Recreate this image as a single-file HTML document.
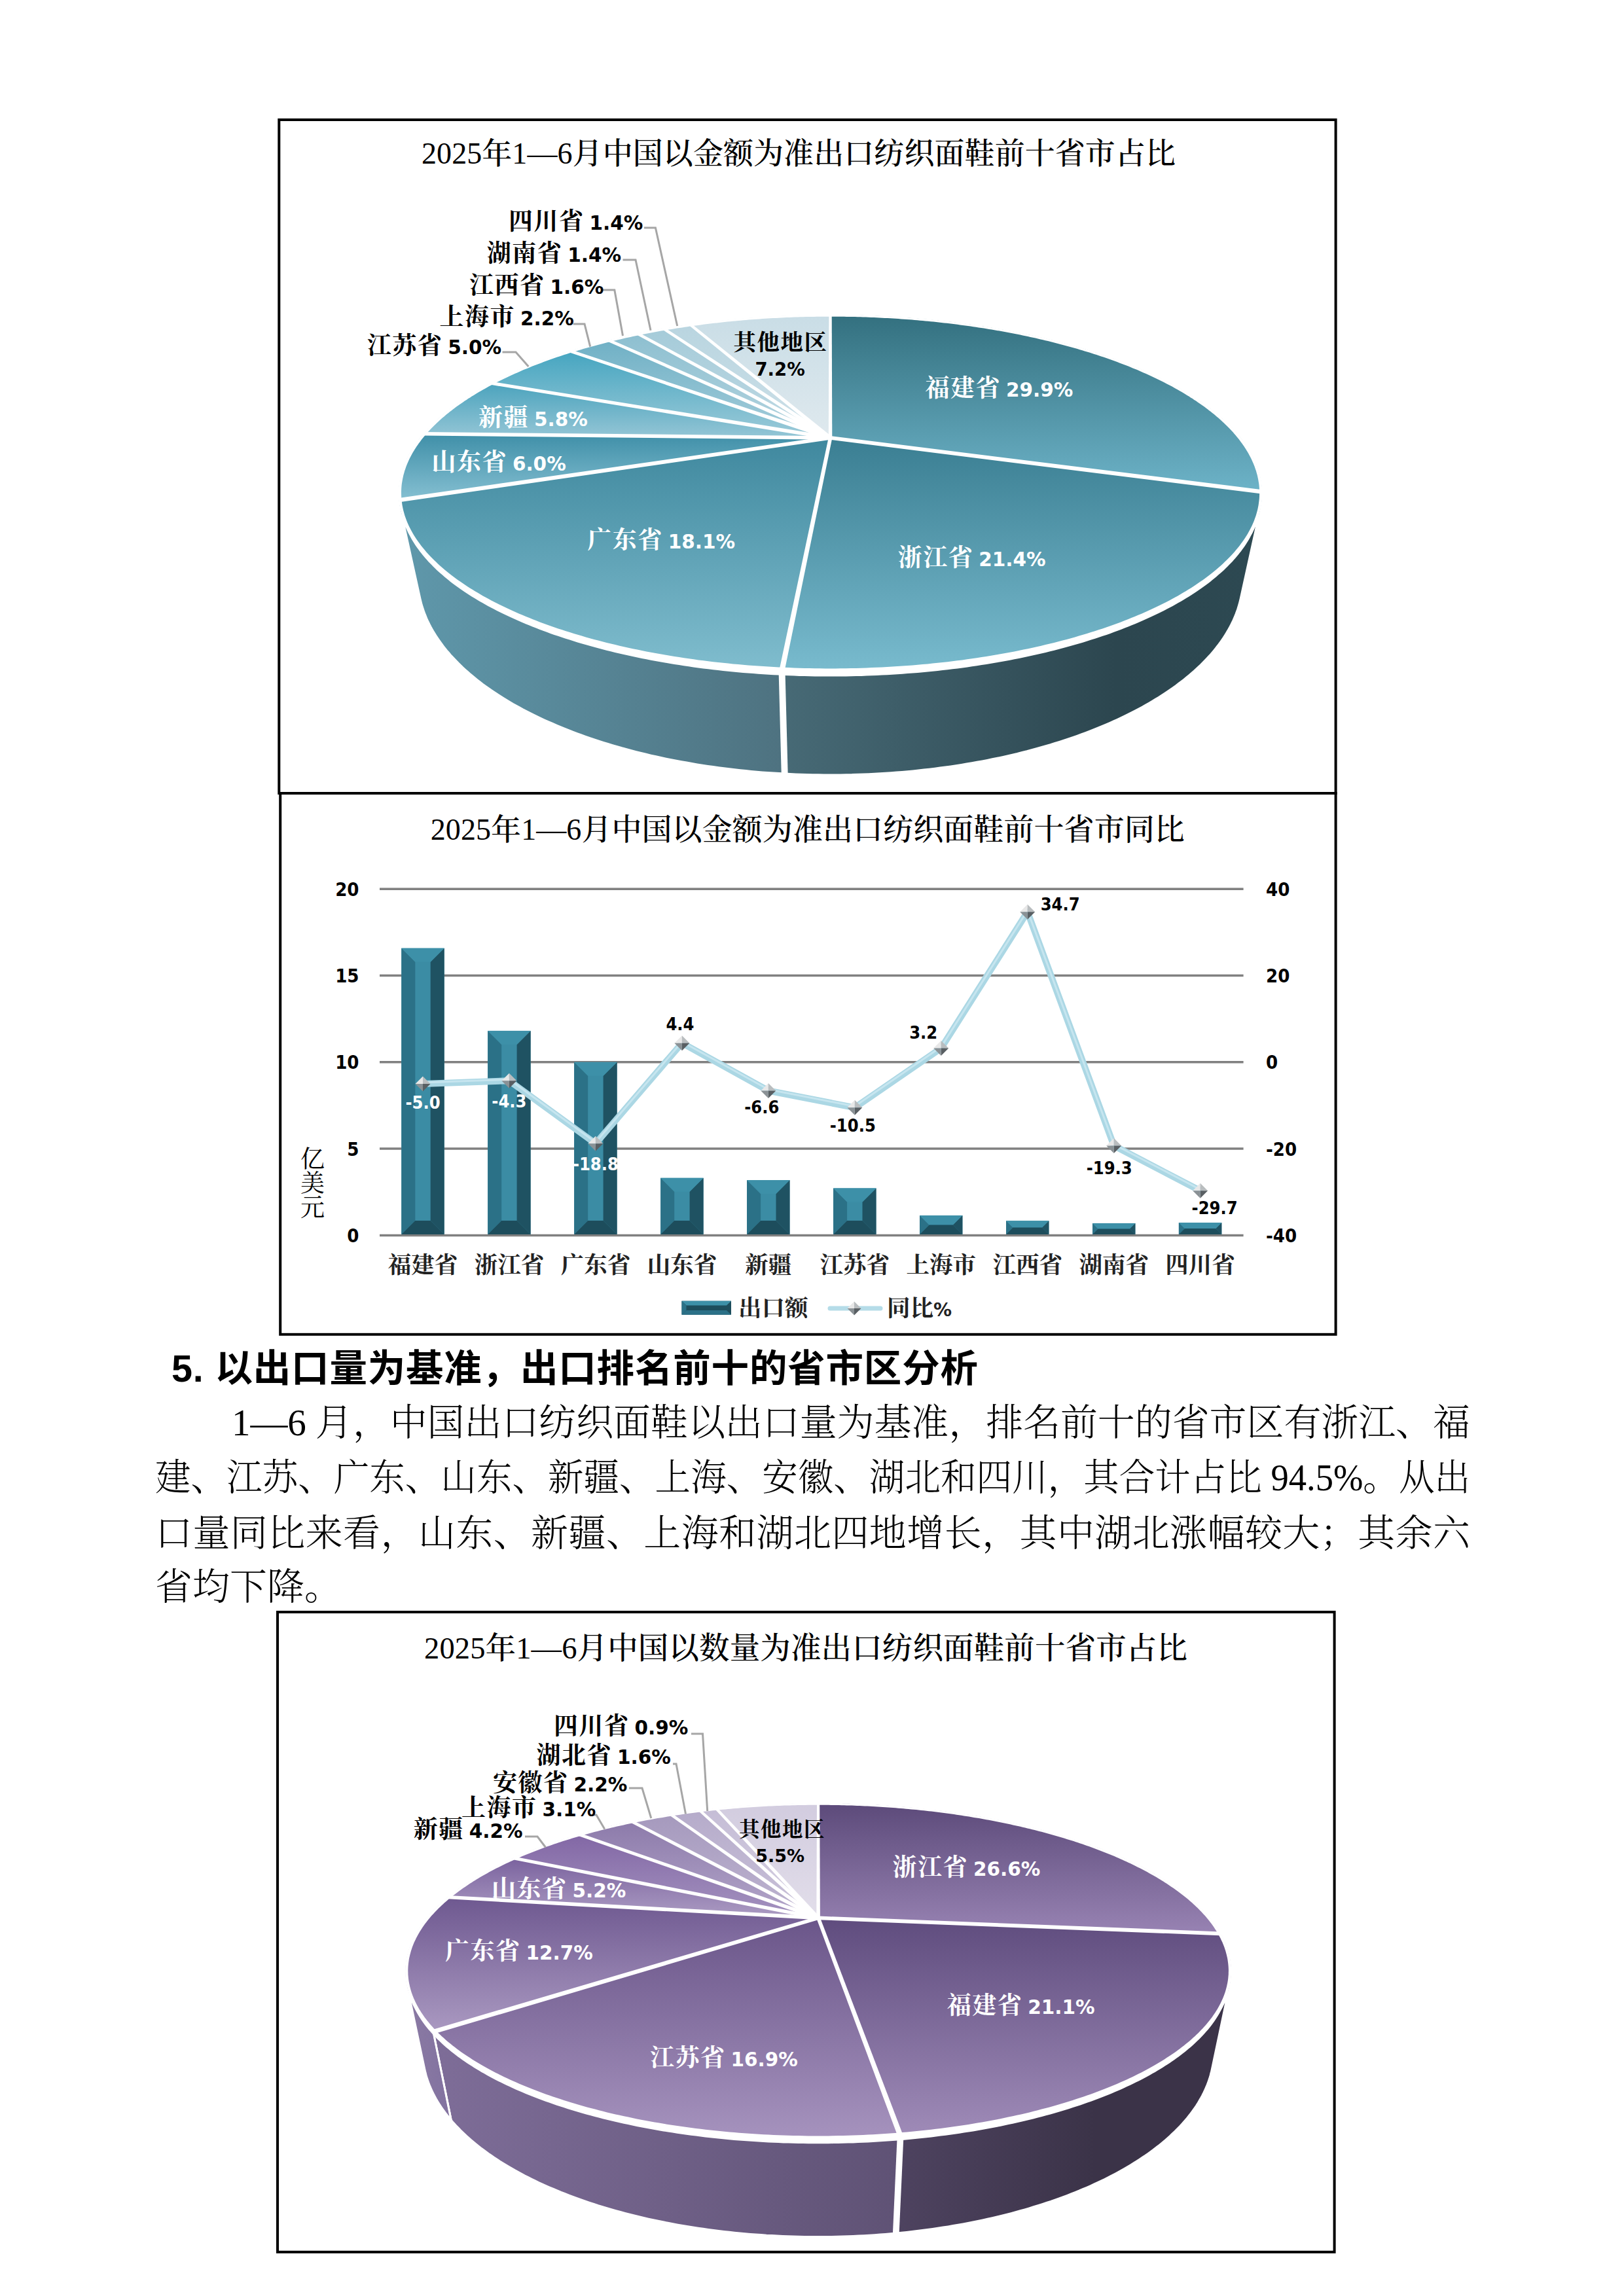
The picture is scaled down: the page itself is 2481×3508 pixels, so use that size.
<!DOCTYPE html>
<html lang="zh-CN"><head><meta charset="utf-8"><title>纺织面鞋出口分析</title>
<style>
html,body{margin:0;padding:0;background:#fff;}
body{width:2481px;height:3508px;position:relative;overflow:hidden;}
.pl{position:absolute;white-space:nowrap;font-family:"Liberation Serif","Noto Serif CJK SC",serif;font-size:56.5px;font-weight:300;color:#000;}
.hd{position:absolute;left:262px;top:2054px;height:80px;line-height:80px;white-space:nowrap;font-family:"Liberation Sans","Noto Sans CJK SC",sans-serif;font-size:57.5px;font-weight:900;color:#000;}
</style></head><body>
<svg width="2481" height="3508" viewBox="0 0 2481 3508" style="position:absolute;left:0;top:0"><defs><linearGradient id="g1" gradientUnits="userSpaceOnUse" x1="1194.5" y1="0" x2="1925.2" y2="0"><stop offset="0" stop-color="#476A76"/><stop offset="0.7" stop-color="#2C464F"/><stop offset="1" stop-color="#2D4952"/></linearGradient><linearGradient id="g2" gradientUnits="userSpaceOnUse" x1="611.9" y1="0" x2="1198.7" y2="0"><stop offset="0" stop-color="#5F98AB"/><stop offset="1" stop-color="#4E7280"/></linearGradient><linearGradient id="g3" x1="0" y1="0" x2="0" y2="1"><stop offset="0" stop-color="#33707F"/><stop offset="1" stop-color="#6DB3C8"/></linearGradient><linearGradient id="g4" x1="0" y1="0" x2="0" y2="1"><stop offset="0" stop-color="#3A7E92"/><stop offset="1" stop-color="#79BBCE"/></linearGradient><linearGradient id="g5" x1="0" y1="0" x2="0" y2="1"><stop offset="0" stop-color="#3F889E"/><stop offset="1" stop-color="#80BDCE"/></linearGradient><linearGradient id="g6" x1="0" y1="0" x2="0" y2="1"><stop offset="0" stop-color="#3F8FA8"/><stop offset="1" stop-color="#86C0D2"/></linearGradient><linearGradient id="g7" x1="0" y1="0" x2="0" y2="1"><stop offset="0" stop-color="#4BA3BD"/><stop offset="1" stop-color="#95C6D6"/></linearGradient><linearGradient id="g8" x1="0" y1="0" x2="0" y2="1"><stop offset="0" stop-color="#45A5C0"/><stop offset="1" stop-color="#9ECBD9"/></linearGradient><linearGradient id="g9" x1="0" y1="0" x2="0" y2="1"><stop offset="0" stop-color="#6FB0C5"/><stop offset="1" stop-color="#A8CFDC"/></linearGradient><linearGradient id="g10" x1="0" y1="0" x2="0" y2="1"><stop offset="0" stop-color="#8DBFD0"/><stop offset="1" stop-color="#B5D5E0"/></linearGradient><linearGradient id="g11" x1="0" y1="0" x2="0" y2="1"><stop offset="0" stop-color="#A5CBD9"/><stop offset="1" stop-color="#C0DAE4"/></linearGradient><linearGradient id="g12" x1="0" y1="0" x2="0" y2="1"><stop offset="0" stop-color="#B9D5E0"/><stop offset="1" stop-color="#CDE0E8"/></linearGradient><linearGradient id="g13" x1="0" y1="0" x2="0" y2="1"><stop offset="0" stop-color="#C9DDE6"/><stop offset="1" stop-color="#DFE9EE"/></linearGradient><linearGradient id="g14" gradientUnits="userSpaceOnUse" x1="1368.8" y1="0" x2="1878.3" y2="0"><stop offset="0" stop-color="#4E4360"/><stop offset="0.6" stop-color="#3B3348"/><stop offset="1" stop-color="#3B3348"/></linearGradient><linearGradient id="g15" gradientUnits="userSpaceOnUse" x1="661.9" y1="0" x2="1375.6" y2="0"><stop offset="0" stop-color="#7E6D98"/><stop offset="1" stop-color="#5F5275"/></linearGradient><linearGradient id="g16" gradientUnits="userSpaceOnUse" x1="621.9" y1="0" x2="689.2" y2="0"><stop offset="0" stop-color="#8A7AA3"/><stop offset="1" stop-color="#8272A0"/></linearGradient><linearGradient id="g17" x1="0" y1="0" x2="0" y2="1"><stop offset="0" stop-color="#5C4A7A"/><stop offset="1" stop-color="#9883B3"/></linearGradient><linearGradient id="g18" x1="0" y1="0" x2="0" y2="1"><stop offset="0" stop-color="#5F4C7E"/><stop offset="1" stop-color="#9F8BB8"/></linearGradient><linearGradient id="g19" x1="0" y1="0" x2="0" y2="1"><stop offset="0" stop-color="#6A5589"/><stop offset="1" stop-color="#A693BE"/></linearGradient><linearGradient id="g20" x1="0" y1="0" x2="0" y2="1"><stop offset="0" stop-color="#6E5890"/><stop offset="1" stop-color="#AA99C1"/></linearGradient><linearGradient id="g21" x1="0" y1="0" x2="0" y2="1"><stop offset="0" stop-color="#7A629E"/><stop offset="1" stop-color="#AC9CC3"/></linearGradient><linearGradient id="g22" x1="0" y1="0" x2="0" y2="1"><stop offset="0" stop-color="#8267A5"/><stop offset="1" stop-color="#A594C0"/></linearGradient><linearGradient id="g23" x1="0" y1="0" x2="0" y2="1"><stop offset="0" stop-color="#8C7AAA"/><stop offset="1" stop-color="#B5A8CB"/></linearGradient><linearGradient id="g24" x1="0" y1="0" x2="0" y2="1"><stop offset="0" stop-color="#A599BD"/><stop offset="1" stop-color="#C0B6D2"/></linearGradient><linearGradient id="g25" x1="0" y1="0" x2="0" y2="1"><stop offset="0" stop-color="#B5ABCA"/><stop offset="1" stop-color="#CBC3DA"/></linearGradient><linearGradient id="g26" x1="0" y1="0" x2="0" y2="1"><stop offset="0" stop-color="#C5BDD6"/><stop offset="1" stop-color="#D5CFE2"/></linearGradient><linearGradient id="g27" x1="0" y1="0" x2="0" y2="1"><stop offset="0" stop-color="#D2CCDF"/><stop offset="1" stop-color="#E2DEEA"/></linearGradient></defs>
<rect x="0" y="0" width="2481" height="3508" fill="#fff"/>
<rect x="426.3" y="183" width="1614.3" height="1029" fill="none" stroke="#000" stroke-width="4"/>
<rect x="428.2" y="1212" width="1612.4" height="826.8" fill="none" stroke="#000" stroke-width="4"/>
<rect x="424" y="2463" width="1614.6" height="977.8" fill="none" stroke="#000" stroke-width="4"/>
<polygon points="1925.2,778.4 1924.5,781.4 1923.7,784.3 1922.9,787.3 1921.9,790.2 1920.9,793.2 1919.8,796.2 1918.7,799.2 1917.4,802.1 1916,805.1 1914.6,808.1 1913.1,811.1 1911.5,814.1 1909.8,817.1 1908,820.1 1906.2,823.1 1904.2,826.1 1902.2,829.1 1900.1,832.1 1897.8,835.1 1895.5,838 1893.1,841 1890.6,844 1888.1,847 1885.4,850 1882.6,853 1879.7,856 1876.8,858.9 1873.7,861.9 1870.6,864.8 1867.4,867.8 1864,870.7 1860.6,873.7 1857.1,876.6 1853.5,879.5 1849.8,882.4 1845.9,885.3 1842,888.2 1838,891.1 1834,893.9 1829.8,896.8 1825.5,899.6 1821.1,902.4 1816.6,905.3 1812,908 1807.4,910.8 1802.6,913.6 1797.7,916.3 1792.8,919 1787.7,921.7 1782.6,924.4 1777.3,927.1 1772,929.7 1766.6,932.4 1761,935 1755.4,937.5 1749.7,940.1 1743.9,942.6 1738,945.1 1732,947.6 1726,950 1719.8,952.5 1713.5,954.9 1707.2,957.2 1700.8,959.6 1694.2,961.9 1687.6,964.2 1680.9,966.4 1674.2,968.6 1667.3,970.8 1660.4,973 1653.4,975.1 1646.3,977.2 1639.1,979.2 1631.8,981.2 1624.5,983.2 1617.1,985.1 1609.6,987 1602,988.9 1594.4,990.7 1586.7,992.5 1578.9,994.2 1571.1,995.9 1563.2,997.6 1555.2,999.2 1547.2,1000.8 1539.1,1002.3 1530.9,1003.8 1522.7,1005.3 1514.4,1006.7 1506.1,1008 1497.7,1009.3 1489.3,1010.6 1480.8,1011.8 1472.3,1013 1463.7,1014.1 1455,1015.2 1446.4,1016.2 1437.7,1017.2 1428.9,1018.1 1420.1,1019 1411.3,1019.9 1402.5,1020.6 1393.6,1021.4 1384.7,1022.1 1375.7,1022.7 1366.8,1023.3 1357.8,1023.8 1348.8,1024.3 1339.7,1024.7 1330.7,1025.1 1321.6,1025.4 1312.6,1025.7 1303.5,1025.9 1294.4,1026.1 1285.3,1026.2 1276.2,1026.3 1267.1,1026.3 1258,1026.3 1248.9,1026.2 1239.8,1026.1 1230.7,1025.9 1221.6,1025.6 1212.6,1025.3 1203.5,1025 1194.5,1024.6 1198.7,1182.1 1207.3,1182.5 1215.8,1182.9 1224.3,1183.2 1232.9,1183.5 1241.5,1183.7 1250,1183.8 1258.6,1183.9 1267.2,1184 1275.8,1183.9 1284.3,1183.9 1292.9,1183.7 1301.5,1183.6 1310,1183.3 1318.6,1183 1327.1,1182.7 1335.6,1182.3 1344.2,1181.8 1352.6,1181.3 1361.1,1180.7 1369.6,1180.1 1378,1179.4 1386.4,1178.7 1394.8,1177.9 1403.1,1177 1411.5,1176.1 1419.7,1175.2 1428,1174.2 1436.2,1173.1 1444.4,1172 1452.5,1170.9 1460.6,1169.7 1468.7,1168.4 1476.7,1167.1 1484.7,1165.7 1492.6,1164.3 1500.5,1162.9 1508.3,1161.4 1516,1159.8 1523.8,1158.2 1531.4,1156.6 1539,1154.9 1546.6,1153.1 1554.1,1151.4 1561.5,1149.5 1568.8,1147.7 1576.1,1145.7 1583.4,1143.8 1590.5,1141.8 1597.6,1139.7 1604.7,1137.7 1611.6,1135.5 1618.5,1133.4 1625.3,1131.2 1632.1,1128.9 1638.8,1126.6 1645.4,1124.3 1651.9,1122 1658.3,1119.6 1664.7,1117.2 1671,1114.7 1677.2,1112.2 1683.3,1109.7 1689.4,1107.1 1695.3,1104.5 1701.2,1101.9 1707,1099.3 1712.7,1096.6 1718.4,1093.9 1723.9,1091.2 1729.4,1088.4 1734.8,1085.6 1740.1,1082.8 1745.3,1080 1750.4,1077.1 1755.4,1074.2 1760.4,1071.3 1765.2,1068.4 1770,1065.5 1774.6,1062.5 1779.2,1059.5 1783.7,1056.5 1788.1,1053.5 1792.5,1050.4 1796.7,1047.4 1800.8,1044.3 1804.9,1041.2 1808.9,1038.1 1812.7,1035 1816.5,1031.8 1820.2,1028.7 1823.8,1025.5 1827.3,1022.3 1830.8,1019.1 1834.1,1016 1837.3,1012.8 1840.5,1009.5 1843.6,1006.3 1846.6,1003.1 1849.5,999.9 1852.3,996.6 1855,993.4 1857.6,990.1 1860.2,986.8 1862.6,983.6 1865,980.3 1867.3,977 1869.5,973.8 1871.6,970.5 1873.6,967.2 1875.6,963.9 1877.4,960.7 1879.2,957.4 1880.9,954.1 1882.5,950.8 1884.1,947.6 1885.5,944.3 1886.9,941 1888.2,937.8 1889.4,934.5 1890.6,931.2 1891.6,928 1892.6,924.7 1893.5,921.5 1894.3,918.3 1895.1,915" fill="url(#g1)" stroke="#fff" stroke-width="3" stroke-linejoin="round"/>
<polygon points="1194.5,1024.6 1185.4,1024.1 1176.3,1023.6 1167.3,1023.1 1158.3,1022.5 1149.3,1021.8 1140.3,1021.1 1131.4,1020.4 1122.5,1019.5 1113.7,1018.7 1104.8,1017.8 1096,1016.8 1087.3,1015.8 1078.6,1014.8 1069.9,1013.7 1061.3,1012.5 1052.8,1011.3 1044.2,1010.1 1035.8,1008.8 1027.4,1007.4 1019,1006 1010.7,1004.6 1002.5,1003.1 994.3,1001.6 986.2,1000 978.1,998.4 970.1,996.8 962.2,995.1 954.3,993.4 946.5,991.6 938.8,989.8 931.2,987.9 923.6,986 916.1,984.1 908.7,982.1 901.4,980.1 894.1,978.1 886.9,976 879.8,973.9 872.8,971.7 865.9,969.6 859,967.4 852.2,965.1 845.6,962.8 839,960.5 832.5,958.2 826,955.8 819.7,953.4 813.5,951 807.3,948.5 801.3,946 795.3,943.5 789.4,941 783.7,938.4 778,935.8 772.4,933.2 766.9,930.6 761.5,927.9 756.2,925.3 751,922.6 745.8,919.9 740.8,917.1 735.9,914.4 731.1,911.6 726.4,908.8 721.7,906 717.2,903.2 712.8,900.4 708.4,897.5 704.2,894.6 700,891.8 696,888.9 692,886 688.2,883.1 684.4,880.1 680.8,877.2 677.2,874.3 673.7,871.3 670.4,868.4 667.1,865.4 663.9,862.4 660.8,859.4 657.8,856.4 654.9,853.4 652.1,850.5 649.4,847.5 646.8,844.4 644.3,841.4 641.9,838.4 639.5,835.4 637.3,832.4 635.1,829.4 633.1,826.4 631.1,823.4 629.2,820.3 627.4,817.3 625.7,814.3 624.1,811.3 622.6,808.3 621.1,805.3 619.8,802.3 618.5,799.3 617.3,796.3 616.2,793.3 615.2,790.3 614.3,787.3 613.4,784.4 612.6,781.4 611.9,778.4 642,915 642.8,918.3 643.6,921.5 644.5,924.8 645.5,928.1 646.6,931.3 647.7,934.6 648.9,937.9 650.3,941.2 651.6,944.5 653.1,947.8 654.7,951.1 656.3,954.4 658,957.7 659.8,961 661.7,964.3 663.7,967.6 665.7,970.9 667.9,974.1 670.1,977.4 672.4,980.7 674.8,984 677.3,987.3 679.9,990.6 682.5,993.9 685.3,997.1 688.1,1000.4 691,1003.6 694.1,1006.9 697.2,1010.1 700.4,1013.4 703.7,1016.6 707,1019.8 710.5,1023 714.1,1026.2 717.7,1029.4 721.4,1032.5 725.3,1035.7 729.2,1038.8 733.2,1041.9 737.3,1045.1 741.5,1048.1 745.8,1051.2 750.1,1054.3 754.6,1057.3 759.2,1060.3 763.8,1063.3 768.5,1066.3 773.4,1069.3 778.3,1072.2 783.3,1075.2 788.4,1078 793.5,1080.9 798.8,1083.8 804.2,1086.6 809.6,1089.4 815.1,1092.1 820.7,1094.9 826.4,1097.6 832.2,1100.3 838.1,1102.9 844.1,1105.5 850.1,1108.1 856.2,1110.7 862.4,1113.2 868.7,1115.7 875,1118.2 881.5,1120.6 888,1123 894.6,1125.3 901.3,1127.7 908,1129.9 914.8,1132.2 921.7,1134.4 928.7,1136.5 935.7,1138.6 942.9,1140.7 950,1142.8 957.3,1144.7 964.6,1146.7 972,1148.6 979.4,1150.5 986.9,1152.3 994.5,1154.1 1002.1,1155.8 1009.8,1157.5 1017.5,1159.1 1025.3,1160.7 1033.2,1162.2 1041.1,1163.7 1049,1165.1 1057,1166.5 1065,1167.9 1073.1,1169.2 1081.3,1170.4 1089.5,1171.6 1097.7,1172.7 1105.9,1173.8 1114.2,1174.8 1122.5,1175.8 1130.9,1176.7 1139.3,1177.6 1147.7,1178.4 1156.2,1179.2 1164.6,1179.9 1173.1,1180.5 1181.7,1181.1 1190.2,1181.6 1198.7,1182.1" fill="url(#g2)" stroke="#fff" stroke-width="3" stroke-linejoin="round"/>
<line x1="1194.5" y1="1024.6" x2="1198.7" y2="1182.1" stroke="#fff" stroke-width="9.9"/>
<polygon points="1268.5,669 1268.5,481.1 1273.4,481.1 1278.2,481.1 1283,481.2 1287.8,481.2 1292.6,481.3 1297.4,481.3 1302.2,481.4 1307,481.5 1311.8,481.7 1316.6,481.8 1321.4,482 1326.2,482.1 1330.9,482.3 1335.7,482.5 1340.5,482.7 1345.3,482.9 1350.1,483.2 1354.9,483.4 1359.7,483.7 1364.4,484 1369.2,484.3 1374,484.6 1378.7,484.9 1383.5,485.3 1388.3,485.6 1393,486 1397.8,486.4 1402.5,486.8 1407.3,487.2 1412,487.6 1416.8,488.1 1421.5,488.5 1426.2,489 1430.9,489.5 1435.7,490 1440.4,490.5 1445.1,491 1449.8,491.6 1454.5,492.1 1459.2,492.7 1463.8,493.3 1468.5,493.9 1473.2,494.5 1477.9,495.2 1482.5,495.8 1487.2,496.5 1491.8,497.2 1496.4,497.9 1501.1,498.6 1505.7,499.3 1510.3,500.1 1514.9,500.8 1519.5,501.6 1524.1,502.4 1528.7,503.2 1533.3,504 1537.8,504.9 1542.4,505.7 1546.9,506.6 1551.4,507.5 1556,508.4 1560.5,509.3 1565,510.2 1569.5,511.1 1574,512.1 1578.4,513.1 1582.9,514.1 1587.3,515.1 1591.8,516.1 1596.2,517.1 1600.6,518.2 1605,519.3 1609.4,520.3 1613.8,521.4 1618.1,522.6 1622.5,523.7 1626.8,524.8 1631.1,526 1635.4,527.2 1639.7,528.4 1644,529.6 1648.2,530.8 1652.5,532.1 1656.7,533.3 1660.9,534.6 1665.1,535.9 1669.3,537.2 1673.4,538.5 1677.6,539.9 1681.7,541.2 1685.8,542.6 1689.9,544 1694,545.4 1698,546.9 1702.1,548.3 1706.1,549.8 1710.1,551.2 1714,552.7 1718,554.2 1721.9,555.8 1725.8,557.3 1729.7,558.9 1733.6,560.4 1737.4,562 1741.2,563.6 1745,565.3 1748.8,566.9 1752.5,568.6 1756.3,570.2 1760,571.9 1763.6,573.7 1767.3,575.4 1770.9,577.1 1774.5,578.9 1778,580.7 1781.6,582.5 1785.1,584.3 1788.6,586.1 1792,588 1795.4,589.8 1798.8,591.7 1802.2,593.6 1805.5,595.5 1808.8,597.4 1812.1,599.4 1815.3,601.4 1818.5,603.3 1821.7,605.3 1824.8,607.4 1827.9,609.4 1831,611.4 1834,613.5 1837,615.6 1840,617.7 1842.9,619.8 1845.8,622 1848.6,624.1 1851.4,626.3 1854.2,628.5 1856.9,630.7 1859.6,632.9 1862.2,635.1 1864.8,637.4 1867.4,639.6 1869.9,641.9 1872.4,644.2 1874.8,646.5 1877.2,648.9 1879.5,651.2 1881.8,653.6 1884.1,656 1886.3,658.4 1888.4,660.8 1890.5,663.2 1892.6,665.7 1894.6,668.1 1896.5,670.6 1898.4,673.1 1900.2,675.6 1902,678.1 1903.8,680.7 1905.5,683.2 1907.1,685.8 1908.7,688.4 1910.2,691 1911.6,693.6 1913,696.2 1914.4,698.8 1915.7,701.5 1916.9,704.2 1918.1,706.8 1919.2,709.5 1920.2,712.2 1921.2,715 1922.1,717.7 1923,720.4 1923.7,723.2 1924.5,726 1925.1,728.7 1925.7,731.5 1926.2,734.3 1926.7,737.2 1927,740 1927.4,742.8 1927.6,745.7 1927.8,748.5 1927.9,751.4" fill="url(#g3)"/>
<polygon points="1268.5,669 1927.9,751.4 1927.9,754.3 1927.8,757.2 1927.7,760 1927.5,763 1927.2,765.9 1926.9,768.8 1926.4,771.7 1925.9,774.6 1925.3,777.6 1924.7,780.5 1923.9,783.5 1923.1,786.4 1922.2,789.4 1921.2,792.4 1920.1,795.4 1919,798.3 1917.7,801.3 1916.4,804.3 1915,807.3 1913.5,810.3 1911.9,813.3 1910.3,816.3 1908.5,819.3 1906.7,822.3 1904.7,825.3 1902.7,828.3 1900.6,831.3 1898.4,834.3 1896.1,837.3 1893.7,840.3 1891.2,843.3 1888.7,846.3 1886,849.3 1883.3,852.3 1880.4,855.3 1877.5,858.3 1874.4,861.2 1871.3,864.2 1868.1,867.1 1864.8,870.1 1861.4,873 1857.8,876 1854.2,878.9 1850.5,881.8 1846.7,884.7 1842.8,887.6 1838.9,890.5 1834.8,893.4 1830.6,896.2 1826.3,899.1 1821.9,901.9 1817.5,904.7 1812.9,907.5 1808.2,910.3 1803.5,913.1 1798.6,915.8 1793.7,918.6 1788.6,921.3 1783.5,924 1778.2,926.6 1772.9,929.3 1767.5,931.9 1762,934.5 1756.3,937.1 1750.6,939.7 1744.8,942.2 1738.9,944.7 1732.9,947.2 1726.9,949.7 1720.7,952.1 1714.5,954.5 1708.1,956.9 1701.7,959.2 1695.2,961.6 1688.5,963.9 1681.8,966.1 1675.1,968.3 1668.2,970.5 1661.3,972.7 1654.2,974.8 1647.1,976.9 1639.9,979 1632.7,981 1625.3,983 1617.9,984.9 1610.4,986.8 1602.8,988.7 1595.2,990.5 1587.5,992.3 1579.7,994.1 1571.9,995.8 1563.9,997.4 1556,999.1 1547.9,1000.6 1539.8,1002.2 1531.6,1003.7 1523.4,1005.1 1515.1,1006.5 1506.8,1007.9 1498.4,1009.2 1489.9,1010.5 1481.4,1011.7 1472.9,1012.9 1464.3,1014 1455.6,1015.1 1446.9,1016.2 1438.2,1017.1 1429.5,1018.1 1420.7,1019 1411.8,1019.8 1402.9,1020.6 1394,1021.3 1385.1,1022 1376.1,1022.7 1367.2,1023.3 1358.2,1023.8 1349.1,1024.3 1340.1,1024.7 1331,1025.1 1321.9,1025.4 1312.8,1025.7 1303.7,1025.9 1294.6,1026.1 1285.5,1026.2 1276.4,1026.3 1267.3,1026.3 1258.1,1026.3 1249,1026.2 1239.9,1026.1 1230.8,1025.9 1221.7,1025.6 1212.6,1025.3 1203.5,1025 1194.5,1024.6" fill="url(#g4)"/>
<polygon points="1268.5,669 1194.5,1024.6 1185.4,1024.1 1176.4,1023.6 1167.3,1023.1 1158.3,1022.5 1149.4,1021.8 1140.4,1021.1 1131.5,1020.4 1122.6,1019.6 1113.7,1018.7 1104.9,1017.8 1096.1,1016.8 1087.4,1015.8 1078.7,1014.8 1070.1,1013.7 1061.5,1012.5 1052.9,1011.3 1044.4,1010.1 1035.9,1008.8 1027.5,1007.5 1019.2,1006.1 1010.9,1004.6 1002.6,1003.2 994.5,1001.6 986.4,1000.1 978.3,998.5 970.3,996.8 962.4,995.1 954.6,993.4 946.8,991.6 939.1,989.8 931.4,988 923.9,986.1 916.4,984.2 909,982.2 901.6,980.2 894.4,978.2 887.2,976.1 880.1,974 873.1,971.8 866.1,969.7 859.3,967.4 852.5,965.2 845.8,962.9 839.3,960.6 832.8,958.3 826.3,955.9 820,953.5 813.8,951.1 807.6,948.6 801.6,946.2 795.6,943.7 789.7,941.1 784,938.6 778.3,936 772.7,933.4 767.2,930.8 761.8,928.1 756.5,925.4 751.3,922.7 746.2,920 741.1,917.3 736.2,914.6 731.4,911.8 726.7,909 722,906.2 717.5,903.4 713.1,900.6 708.7,897.7 704.5,894.8 700.3,892 696.3,889.1 692.3,886.2 688.5,883.3 684.7,880.4 681,877.4 677.5,874.5 674,871.5 670.6,868.6 667.3,865.6 664.2,862.7 661.1,859.7 658.1,856.7 655.2,853.7 652.4,850.7 649.7,847.7 647,844.7 644.5,841.7 642.1,838.7 639.7,835.7 637.5,832.7 635.3,829.7 633.3,826.7 631.3,823.6 629.4,820.6 627.6,817.6 625.9,814.6 624.3,811.6 622.7,808.6 621.3,805.6 619.9,802.6 618.6,799.6 617.4,796.6 616.3,793.6 615.3,790.6 614.4,787.7 613.5,784.7 612.7,781.7 612,778.8 611.4,775.8 610.8,772.9 610.4,769.9 610,767 609.7,764.1" fill="url(#g5)"/>
<polygon points="1268.5,669 609.7,764.1 609.5,761.1 609.3,758.2 609.2,755.2 609.2,752.3 609.3,749.4 609.4,746.5 609.7,743.6 610,740.7 610.3,737.9 610.8,735 611.3,732.2 611.9,729.3 612.5,726.5 613.2,723.7 614,720.9 614.9,718.1 615.8,715.3 616.8,712.6 617.8,709.8 618.9,707.1 620.1,704.4 621.3,701.7 622.6,699 624,696.3 625.4,693.6 626.9,691 628.4,688.3 630,685.7 631.7,683.1 633.4,680.5 635.2,678 637,675.4 638.9,672.9 640.8,670.3 642.8,667.8 644.8,665.3 646.9,662.9" fill="url(#g6)"/>
<polygon points="1268.5,669 646.9,662.9 649,660.4 651.2,658 653.4,655.6 655.7,653.2 658,650.8 660.4,648.4 662.8,646.1 665.2,643.7 667.7,641.4 670.3,639.1 672.9,636.8 675.5,634.6 678.2,632.3 680.9,630.1 683.6,627.9 686.4,625.7 689.3,623.5 692.1,621.3 695.1,619.2 698,617.1 701,615 704,612.9 707.1,610.8 710.2,608.7 713.3,606.7 716.5,604.6 719.7,602.6 722.9,600.6 726.2,598.7 729.5,596.7 732.8,594.8 736.2,592.9 739.6,590.9 743,589.1 746.5,587.2 750,585.3" fill="url(#g7)"/>
<polygon points="1268.5,669 750,585.3 753.5,583.5 757.1,581.7 760.6,579.9 764.3,578.1 767.9,576.3 771.6,574.6 775.2,572.8 779,571.1 782.7,569.4 786.5,567.7 790.3,566.1 794.1,564.4 797.9,562.8 801.8,561.2 805.7,559.6 809.6,558 813.5,556.4 817.5,554.9 821.4,553.3 825.4,551.8 829.5,550.3 833.5,548.9 837.6,547.4 841.6,546 845.7,544.5 849.8,543.1 854,541.7 858.1,540.3 862.3,539 866.5,537.6 870.7,536.3" fill="url(#g8)"/>
<polygon points="1268.5,669 870.7,536.3 875.1,534.9 879.6,533.6 884.1,532.2 888.6,530.9 893.1,529.6 897.6,528.3 902.1,527.1 906.7,525.8 911.3,524.6 915.8,523.4 920.4,522.2 925.1,521 929.7,519.8" fill="url(#g9)"/>
<polygon points="1268.5,669 929.7,519.8 934.1,518.8 938.5,517.7 942.9,516.7 947.3,515.6 951.8,514.6 956.2,513.6 960.7,512.6 965.2,511.7 969.7,510.7 974.2,509.8" fill="url(#g10)"/>
<polygon points="1268.5,669 974.2,509.8 979.1,508.8 984.1,507.8 989,506.8 994,505.8 999,504.9 1004,504 1009,503.1 1014,502.2" fill="url(#g11)"/>
<polygon points="1268.5,669 1014,502.2 1019,501.4 1024,500.5 1029.1,499.7 1034.1,498.9 1039.2,498.1 1044.3,497.3 1049.4,496.6 1054.4,495.9" fill="url(#g12)"/>
<polygon points="1268.5,669 1054.4,495.9 1059.1,495.2 1063.8,494.6 1068.4,493.9 1073.1,493.3 1077.8,492.7 1082.5,492.2 1087.2,491.6 1091.9,491.1 1096.6,490.5 1101.3,490 1106.1,489.5 1110.8,489 1115.5,488.5 1120.2,488.1 1125,487.6 1129.7,487.2 1134.5,486.8 1139.2,486.4 1144,486 1148.7,485.6 1153.5,485.3 1158.3,484.9 1163.1,484.6 1167.8,484.3 1172.6,484 1177.4,483.7 1182.2,483.4 1186.9,483.2 1191.7,482.9 1196.5,482.7 1201.3,482.5 1206.1,482.3 1210.9,482.1 1215.7,482 1220.5,481.8 1225.3,481.7 1230.1,481.5 1234.9,481.4 1239.7,481.3 1244.5,481.3 1249.3,481.2 1254.1,481.2 1258.9,481.1 1263.7,481.1 1268.5,481.1" fill="url(#g13)"/>
<polygon points="1271.3,669 1270.7,481.1 1266.4,481.1 1265.8,669" fill="#fff"/>
<polygon points="1268.2,671.8 1927.5,754.5 1928.2,748.3 1268.9,666.2" fill="#fff"/>
<polygon points="1265.8,668.4 1190.5,1023.8 1198.5,1025.4 1271.3,669.6" fill="#fff"/>
<polygon points="1268.2,666.2 609.2,761 610.1,767.2 1268.9,671.8" fill="#fff"/>
<polygon points="1268.6,666.2 646.9,660.1 646.9,665.6 1268.5,671.8" fill="#fff"/>
<polygon points="1269,666.2 750.4,582.9 749.6,587.8 1268.1,671.8" fill="#fff"/>
<polygon points="1269.4,666.3 871.4,534.1 870,538.5 1267.7,671.7" fill="#fff"/>
<polygon points="1269.7,666.4 930.6,517.8 928.8,521.9 1267.4,671.6" fill="#fff"/>
<polygon points="1269.9,666.5 975.2,507.8 973.1,511.7 1267.2,671.5" fill="#fff"/>
<polygon points="1270.1,666.7 1015.2,500.4 1012.8,504.1 1267,671.3" fill="#fff"/>
<polygon points="1270.3,666.8 1055.8,494.2 1053.1,497.6 1266.8,671.2" fill="#fff"/>
<circle cx="1268.5" cy="669" r="2.8" fill="#fff"/>
<path d="M1268.5 480.6 L1272.7 480.6 L1276.9 480.6 L1281.1 480.6 L1285.2 480.7 L1289.4 480.7 L1293.6 480.8 L1297.8 480.9 L1301.9 480.9 L1306.1 481 L1310.3 481.1 L1314.4 481.2 L1318.6 481.4 L1322.8 481.5 L1326.9 481.7 L1331.1 481.8 L1335.3 482 L1339.4 482.2 L1343.6 482.4 L1347.7 482.6 L1351.9 482.8 L1356.1 483 L1360.2 483.2 L1364.4 483.5 L1368.5 483.7 L1372.7 484 L1376.8 484.3 L1380.9 484.6 L1385.1 484.9 L1389.2 485.2 L1393.3 485.5 L1397.5 485.8 L1401.6 486.2 L1405.7 486.5 L1409.9 486.9 L1414 487.3 L1418.1 487.7 L1422.2 488.1 L1426.3 488.5 L1430.4 488.9 L1434.5 489.4 L1438.6 489.8 L1442.7 490.3 L1446.8 490.7 L1450.9 491.2 L1454.9 491.7 L1459 492.2 L1463.1 492.7 L1467.2 493.2 L1471.2 493.8 L1475.3 494.3 L1479.3 494.9 L1483.4 495.5 L1487.4 496 L1491.5 496.6 L1495.5 497.2 L1499.5 497.9 L1503.5 498.5 L1507.5 499.1 L1511.5 499.8 L1515.5 500.4 L1519.5 501.1 L1523.5 501.8 L1527.5 502.5 L1531.5 503.2 L1535.5 503.9 L1539.4 504.6 L1543.4 505.4 L1547.3 506.1 L1551.3 506.9 L1555.2 507.7 L1559.1 508.5 L1563 509.3 L1566.9 510.1 L1570.8 510.9 L1574.7 511.7 L1578.6 512.6 L1582.5 513.5 L1586.3 514.3 L1590.2 515.2 L1594.1 516.1 L1597.9 517 L1601.7 517.9 L1605.5 518.9 L1609.4 519.8 L1613.2 520.8 L1616.9 521.7 L1620.7 522.7 L1624.5 523.7 L1628.3 524.7 L1632 525.7 L1635.7 526.8 L1639.5 527.8 L1643.2 528.8 L1646.9 529.9 L1650.6 531 L1654.3 532.1 L1657.9 533.2 L1661.6 534.3 L1665.2 535.4 L1668.9 536.6 L1672.5 537.7 L1676.1 538.9 L1679.7 540 L1683.3 541.2 L1686.8 542.4 L1690.4 543.7 L1693.9 544.9 L1697.4 546.1 L1700.9 547.4 L1704.4 548.6 L1707.9 549.9 L1711.4 551.2 L1714.8 552.5 L1718.3 553.8 L1721.7 555.1 L1725.1 556.5 L1728.5 557.8 L1731.8 559.2 L1735.2 560.6 L1738.5 561.9 L1741.8 563.3 L1745.1 564.8 L1748.4 566.2 L1751.7 567.6 L1754.9 569.1 L1758.1 570.6 L1761.3 572 L1764.5 573.5 L1767.7 575 L1770.8 576.5 L1774 578.1 L1777.1 579.6 L1780.1 581.2 L1783.2 582.7 L1786.3 584.3 L1789.3 585.9 L1792.3 587.5 L1795.2 589.1 L1798.2 590.8 L1801.1 592.4 L1804 594.1 L1806.9 595.7 L1809.8 597.4 L1812.6 599.1 L1815.4 600.8 L1818.2 602.6 L1821 604.3 L1823.7 606 L1826.4 607.8 L1829.1 609.6 L1831.8 611.4 L1834.4 613.2 L1837 615 L1839.6 616.8 L1842.1 618.6 L1844.7 620.5 L1847.1 622.4 L1849.6 624.2 L1852 626.1 L1854.4 628 L1856.8 629.9 L1859.2 631.9 L1861.5 633.8 L1863.8 635.8 L1866 637.7 L1868.2 639.7 L1870.4 641.7 L1872.6 643.7 L1874.7 645.7 L1876.8 647.7 L1878.8 649.8 L1880.8 651.8 L1882.8 653.9 L1884.7 656 L1886.7 658.1 L1888.5 660.2 L1890.4 662.3 L1892.2 664.4 L1893.9 666.5 L1895.6 668.7 L1897.3 670.9 L1899 673 L1900.6 675.2 L1902.1 677.4 L1903.7 679.6 L1905.2 681.8 L1906.6 684.1 L1908 686.3 L1909.4 688.6 L1910.7 690.8 L1911.9 693.1 L1913.2 695.4 L1914.4 697.7 L1915.5 700 L1916.6 702.3 L1917.7 704.6 L1918.7 707 L1919.6 709.3 L1920.5 711.7 L1921.4 714 L1922.2 716.4 L1923 718.8 L1923.7 721.2 L1924.4 723.6 L1925 726 L1925.6 728.5 L1926.1 730.9 L1926.5 733.3 L1927 735.8 L1927.3 738.3 L1927.6 740.7 L1927.9 743.2 L1928.1 745.7 L1928.2 748.2 L1928.3 750.7 L1928.4 753.2 L1928.4 755.7 L1928.3 758.2 L1928.2 760.8 L1928 763.3 L1927.7 765.8 L1927.4 768.4 L1927.1 770.9 L1926.6 773.5 L1926.2 776.1 L1923.8 784.8 L1923.2 787.4 L1922.5 790 L1921.8 792.6 L1921 795.2 L1920.1 797.7 L1919.2 800.3 L1918.3 803 L1917.2 805.6 L1916.1 808.2 L1915 810.8 L1913.8 813.4 L1912.5 816 L1911.1 818.6 L1909.7 821.2 L1908.2 823.9 L1906.7 826.5 L1905.1 829.1 L1903.4 831.7 L1901.6 834.4 L1899.8 837 L1897.9 839.6 L1896 842.2 L1893.9 844.8 L1891.8 847.5 L1889.7 850.1 L1887.4 852.7 L1885.1 855.3 L1882.8 857.9 L1880.3 860.5 L1877.8 863.1 L1875.2 865.7 L1872.6 868.3 L1869.9 870.9 L1867.1 873.5 L1864.2 876.1 L1861.2 878.6 L1858.2 881.2 L1855.1 883.8 L1852 886.3 L1848.8 888.9 L1845.5 891.4 L1842.1 893.9 L1838.6 896.5 L1835.1 899 L1831.5 901.5 L1827.9 904 L1824.1 906.4 L1820.3 908.9 L1816.4 911.4 L1812.5 913.8 L1808.5 916.2 L1804.4 918.7 L1800.2 921.1 L1795.9 923.5 L1791.6 925.9 L1787.2 928.2 L1782.8 930.6 L1778.2 932.9 L1773.6 935.2 L1769 937.5 L1764.2 939.8 L1759.4 942.1 L1754.5 944.3 L1749.5 946.6 L1744.5 948.8 L1739.4 951 L1734.2 953.2 L1729 955.3 L1723.7 957.5 L1718.3 959.6 L1712.9 961.7 L1707.4 963.8 L1701.8 965.8 L1696.2 967.9 L1690.5 969.9 L1684.7 971.8 L1678.9 973.8 L1673 975.7 L1667 977.6 L1661 979.5 L1654.9 981.4 L1648.8 983.2 L1642.5 985 L1636.3 986.8 L1630 988.6 L1623.6 990.3 L1617.1 992 L1610.6 993.7 L1604.1 995.3 L1597.5 996.9 L1590.8 998.5 L1584.1 1000 L1577.3 1001.5 L1570.5 1003 L1563.6 1004.5 L1556.7 1005.9 L1549.7 1007.3 L1542.7 1008.7 L1535.7 1010 L1528.6 1011.3 L1521.4 1012.5 L1514.2 1013.8 L1507 1015 L1499.7 1016.1 L1492.4 1017.2 L1485 1018.3 L1477.6 1019.4 L1470.2 1020.4 L1462.7 1021.4 L1455.2 1022.3 L1447.7 1023.2 L1440.2 1024.1 L1432.6 1024.9 L1424.9 1025.7 L1417.3 1026.5 L1409.6 1027.2 L1401.9 1027.9 L1394.2 1028.5 L1386.5 1029.1 L1378.7 1029.7 L1370.9 1030.2 L1363.1 1030.7 L1355.3 1031.2 L1347.4 1031.6 L1339.6 1032 L1331.7 1032.3 L1323.9 1032.6 L1316 1032.9 L1308.1 1033.1 L1300.2 1033.3 L1292.3 1033.4 L1284.4 1033.5 L1276.5 1033.6 L1268.5 1033.6 L1260.6 1033.6 L1252.7 1033.5 L1244.8 1033.4 L1236.9 1033.3 L1229 1033.1 L1221.1 1032.9 L1213.2 1032.6 L1205.4 1032.3 L1197.5 1032 L1189.7 1031.6 L1181.8 1031.2 L1174 1030.7 L1166.2 1030.2 L1158.4 1029.7 L1150.6 1029.1 L1142.9 1028.5 L1135.2 1027.9 L1127.5 1027.2 L1119.8 1026.5 L1112.2 1025.7 L1104.5 1024.9 L1096.9 1024.1 L1089.4 1023.2 L1081.9 1022.3 L1074.4 1021.4 L1066.9 1020.4 L1059.5 1019.4 L1052.1 1018.3 L1044.7 1017.2 L1037.4 1016.1 L1030.1 1015 L1022.9 1013.8 L1015.7 1012.5 L1008.5 1011.3 L1001.4 1010 L994.4 1008.7 L987.4 1007.3 L980.4 1005.9 L973.5 1004.5 L966.6 1003 L959.8 1001.5 L953 1000 L946.3 998.5 L939.6 996.9 L933 995.3 L926.5 993.7 L920 992 L913.5 990.3 L907.1 988.6 L900.8 986.8 L894.6 985 L888.3 983.2 L882.2 981.4 L876.1 979.5 L870.1 977.6 L864.1 975.7 L858.2 973.8 L852.4 971.8 L846.6 969.9 L840.9 967.9 L835.3 965.8 L829.7 963.8 L824.2 961.7 L818.8 959.6 L813.4 957.5 L808.1 955.3 L802.9 953.2 L797.7 951 L792.6 948.8 L787.6 946.6 L782.6 944.3 L777.7 942.1 L772.9 939.8 L768.1 937.5 L763.5 935.2 L758.9 932.9 L754.3 930.6 L749.9 928.2 L745.5 925.9 L741.2 923.5 L736.9 921.1 L732.7 918.7 L728.6 916.2 L724.6 913.8 L720.7 911.4 L716.8 908.9 L713 906.4 L709.2 904 L705.6 901.5 L702 899 L698.5 896.5 L695 893.9 L691.6 891.4 L688.3 888.9 L685.1 886.3 L682 883.8 L678.9 881.2 L675.9 878.6 L672.9 876.1 L670 873.5 L667.2 870.9 L664.5 868.3 L661.9 865.7 L659.3 863.1 L656.8 860.5 L654.3 857.9 L652 855.3 L649.7 852.7 L647.4 850.1 L645.3 847.5 L643.2 844.8 L641.1 842.2 L639.2 839.6 L637.3 837 L635.5 834.4 L633.7 831.7 L632 829.1 L630.4 826.5 L628.9 823.9 L627.4 821.2 L626 818.6 L624.6 816 L623.3 813.4 L622.1 810.8 L621 808.2 L619.9 805.6 L618.8 803 L617.9 800.3 L617 797.7 L616.1 795.2 L615.3 792.6 L614.6 790 L613.9 787.4 L613.3 784.8 L610.9 776.1 L610.5 773.5 L610 770.9 L609.7 768.4 L609.4 765.8 L609.1 763.3 L608.9 760.8 L608.8 758.2 L608.7 755.7 L608.7 753.2 L608.8 750.7 L608.9 748.2 L609 745.7 L609.2 743.2 L609.5 740.7 L609.8 738.3 L610.1 735.8 L610.6 733.3 L611 730.9 L611.5 728.5 L612.1 726 L612.7 723.6 L613.4 721.2 L614.1 718.8 L614.9 716.4 L615.7 714 L616.6 711.7 L617.5 709.3 L618.4 707 L619.4 704.6 L620.5 702.3 L621.6 700 L622.7 697.7 L623.9 695.4 L625.2 693.1 L626.4 690.8 L627.7 688.6 L629.1 686.3 L630.5 684.1 L631.9 681.8 L633.4 679.6 L635 677.4 L636.5 675.2 L638.1 673 L639.8 670.9 L641.5 668.7 L643.2 666.5 L644.9 664.4 L646.7 662.3 L648.6 660.2 L650.4 658.1 L652.4 656 L654.3 653.9 L656.3 651.8 L658.3 649.8 L660.3 647.7 L662.4 645.7 L664.5 643.7 L666.7 641.7 L668.9 639.7 L671.1 637.7 L673.3 635.8 L675.6 633.8 L677.9 631.9 L680.3 629.9 L682.7 628 L685.1 626.1 L687.5 624.2 L690 622.4 L692.4 620.5 L695 618.6 L697.5 616.8 L700.1 615 L702.7 613.2 L705.3 611.4 L708 609.6 L710.7 607.8 L713.4 606 L716.1 604.3 L718.9 602.6 L721.7 600.8 L724.5 599.1 L727.3 597.4 L730.2 595.7 L733.1 594.1 L736 592.4 L738.9 590.8 L741.9 589.1 L744.8 587.5 L747.8 585.9 L750.8 584.3 L753.9 582.7 L757 581.2 L760 579.6 L763.1 578.1 L766.3 576.5 L769.4 575 L772.6 573.5 L775.8 572 L779 570.6 L782.2 569.1 L785.4 567.6 L788.7 566.2 L792 564.8 L795.3 563.3 L798.6 561.9 L801.9 560.6 L805.3 559.2 L808.6 557.8 L812 556.5 L815.4 555.1 L818.8 553.8 L822.3 552.5 L825.7 551.2 L829.2 549.9 L832.7 548.6 L836.2 547.4 L839.7 546.1 L843.2 544.9 L846.7 543.7 L850.3 542.4 L853.8 541.2 L857.4 540 L861 538.9 L864.6 537.7 L868.2 536.6 L871.9 535.4 L875.5 534.3 L879.2 533.2 L882.8 532.1 L886.5 531 L890.2 529.9 L893.9 528.8 L897.6 527.8 L901.4 526.8 L905.1 525.7 L908.8 524.7 L912.6 523.7 L916.4 522.7 L920.2 521.7 L923.9 520.8 L927.7 519.8 L931.6 518.9 L935.4 517.9 L939.2 517 L943 516.1 L946.9 515.2 L950.8 514.3 L954.6 513.5 L958.5 512.6 L962.4 511.7 L966.3 510.9 L970.2 510.1 L974.1 509.3 L978 508.5 L981.9 507.7 L985.8 506.9 L989.8 506.1 L993.7 505.4 L997.7 504.6 L1001.6 503.9 L1005.6 503.2 L1009.6 502.5 L1013.6 501.8 L1017.6 501.1 L1021.6 500.4 L1025.6 499.8 L1029.6 499.1 L1033.6 498.5 L1037.6 497.9 L1041.6 497.2 L1045.6 496.6 L1049.7 496 L1053.7 495.5 L1057.8 494.9 L1061.8 494.3 L1065.9 493.8 L1069.9 493.2 L1074 492.7 L1078.1 492.2 L1082.2 491.7 L1086.2 491.2 L1090.3 490.7 L1094.4 490.3 L1098.5 489.8 L1102.6 489.4 L1106.7 488.9 L1110.8 488.5 L1114.9 488.1 L1119 487.7 L1123.1 487.3 L1127.2 486.9 L1131.4 486.5 L1135.5 486.2 L1139.6 485.8 L1143.8 485.5 L1147.9 485.2 L1152 484.9 L1156.2 484.6 L1160.3 484.3 L1164.4 484 L1168.6 483.7 L1172.7 483.5 L1176.9 483.2 L1181 483 L1185.2 482.8 L1189.4 482.6 L1193.5 482.4 L1197.7 482.2 L1201.8 482 L1206 481.8 L1210.2 481.7 L1214.3 481.5 L1218.5 481.4 L1222.7 481.2 L1226.8 481.1 L1231 481 L1235.2 480.9 L1239.3 480.9 L1243.5 480.8 L1247.7 480.7 L1251.9 480.7 L1256 480.6 L1260.2 480.6 L1264.4 480.6 Z M1268.5 483.7 L1272.7 483.7 L1276.9 483.7 L1281 483.7 L1285.2 483.8 L1289.4 483.8 L1293.5 483.9 L1297.7 483.9 L1301.9 484 L1306 484.1 L1310.2 484.2 L1314.4 484.3 L1318.5 484.5 L1322.7 484.6 L1326.8 484.8 L1331 484.9 L1335.1 485.1 L1339.3 485.3 L1343.4 485.5 L1347.6 485.7 L1351.7 485.9 L1355.9 486.1 L1360 486.3 L1364.2 486.6 L1368.3 486.8 L1372.5 487.1 L1376.6 487.4 L1380.7 487.7 L1384.8 488 L1389 488.3 L1393.1 488.6 L1397.2 489 L1401.3 489.3 L1405.5 489.7 L1409.6 490 L1413.7 490.4 L1417.8 490.8 L1421.9 491.2 L1426 491.6 L1430.1 492 L1434.2 492.5 L1438.3 492.9 L1442.3 493.4 L1446.4 493.8 L1450.5 494.3 L1454.6 494.8 L1458.6 495.3 L1462.7 495.8 L1466.8 496.4 L1470.8 496.9 L1474.9 497.5 L1478.9 498 L1482.9 498.6 L1487 499.2 L1491 499.8 L1495 500.4 L1499 501 L1503 501.6 L1507 502.3 L1511 502.9 L1515 503.6 L1519 504.2 L1523 504.9 L1527 505.6 L1530.9 506.3 L1534.9 507.1 L1538.8 507.8 L1542.8 508.5 L1546.7 509.3 L1550.6 510.1 L1554.6 510.8 L1558.5 511.6 L1562.4 512.4 L1566.3 513.2 L1570.2 514.1 L1574 514.9 L1577.9 515.8 L1581.8 516.6 L1585.6 517.5 L1589.5 518.4 L1593.3 519.3 L1597.1 520.2 L1601 521.1 L1604.8 522 L1608.6 523 L1612.4 523.9 L1616.1 524.9 L1619.9 525.9 L1623.7 526.9 L1627.4 527.9 L1631.1 528.9 L1634.9 529.9 L1638.6 531 L1642.3 532 L1646 533.1 L1649.6 534.2 L1653.3 535.3 L1657 536.4 L1660.6 537.5 L1664.2 538.6 L1667.9 539.7 L1671.5 540.9 L1675.1 542.1 L1678.6 543.2 L1682.2 544.4 L1685.7 545.6 L1689.3 546.8 L1692.8 548.1 L1696.3 549.3 L1699.8 550.5 L1703.3 551.8 L1706.7 553.1 L1710.2 554.4 L1713.6 555.7 L1717 557 L1720.4 558.3 L1723.8 559.6 L1727.2 561 L1730.5 562.4 L1733.9 563.7 L1737.2 565.1 L1740.5 566.5 L1743.7 567.9 L1747 569.4 L1750.2 570.8 L1753.5 572.3 L1756.7 573.7 L1759.9 575.2 L1763 576.7 L1766.2 578.2 L1769.3 579.7 L1772.4 581.2 L1775.5 582.8 L1778.5 584.3 L1781.6 585.9 L1784.6 587.5 L1787.6 589 L1790.6 590.6 L1793.5 592.3 L1796.5 593.9 L1799.4 595.5 L1802.3 597.2 L1805.1 598.8 L1808 600.5 L1810.8 602.2 L1813.5 603.9 L1816.3 605.6 L1819 607.4 L1821.8 609.1 L1824.4 610.9 L1827.1 612.6 L1829.7 614.4 L1832.3 616.2 L1834.9 618 L1837.4 619.8 L1840 621.6 L1842.5 623.5 L1844.9 625.3 L1847.3 627.2 L1849.8 629.1 L1852.1 630.9 L1854.5 632.8 L1856.8 634.7 L1859 636.7 L1861.3 638.6 L1863.5 640.6 L1865.7 642.5 L1867.8 644.5 L1870 646.5 L1872 648.5 L1874.1 650.5 L1876.1 652.5 L1878.1 654.5 L1880 656.5 L1881.9 658.6 L1883.8 660.6 L1885.6 662.7 L1887.4 664.8 L1889.2 666.9 L1890.9 669 L1892.6 671.1 L1894.2 673.2 L1895.8 675.4 L1897.4 677.5 L1898.9 679.7 L1900.4 681.8 L1901.8 684 L1903.3 686.2 L1904.6 688.4 L1905.9 690.6 L1907.2 692.8 L1908.4 695 L1909.6 697.2 L1910.8 699.5 L1911.9 701.7 L1912.9 704 L1913.9 706.3 L1914.9 708.5 L1915.8 710.8 L1916.7 713.1 L1917.5 715.4 L1918.3 717.7 L1919.1 720 L1919.7 722.4 L1920.4 724.7 L1921 727 L1921.5 729.4 L1922 731.7 L1922.4 734.1 L1922.8 736.4 L1923.2 738.8 L1923.5 741.2 L1923.7 743.6 L1923.9 746 L1924 748.4 L1924.1 750.8 L1924.1 753.2 L1924.1 755.6 L1924 758.1 L1923.9 760.5 L1923.7 762.9 L1923.4 765.4 L1923.1 767.8 L1922.8 770.3 L1922.4 772.8 L1921.9 775.2 L1921.4 777.7 L1920.8 780.2 L1920.1 782.7 L1919.4 785.2 L1918.7 787.7 L1917.8 790.2 L1916.9 792.7 L1916 795.2 L1915 797.7 L1913.9 800.2 L1912.8 802.7 L1911.6 805.2 L1910.3 807.8 L1909 810.3 L1907.6 812.8 L1906.1 815.4 L1904.6 817.9 L1903 820.5 L1901.4 823 L1899.7 825.6 L1897.9 828.1 L1896 830.6 L1894.1 833.2 L1892.1 835.7 L1890 838.3 L1887.9 840.8 L1885.7 843.4 L1883.4 845.9 L1881.1 848.5 L1878.7 851 L1876.2 853.6 L1873.7 856.1 L1871 858.6 L1868.3 861.2 L1865.6 863.7 L1862.7 866.2 L1859.8 868.7 L1856.9 871.2 L1853.8 873.7 L1850.7 876.2 L1847.5 878.7 L1844.2 881.2 L1840.9 883.7 L1837.5 886.2 L1834 888.6 L1830.4 891.1 L1826.8 893.5 L1823.1 896 L1819.3 898.4 L1815.4 900.8 L1811.5 903.2 L1807.5 905.6 L1803.4 908 L1799.3 910.4 L1795 912.7 L1790.8 915.1 L1786.4 917.4 L1782 919.7 L1777.4 922 L1772.9 924.3 L1768.2 926.6 L1763.5 928.8 L1758.7 931 L1753.8 933.3 L1748.9 935.5 L1743.9 937.7 L1738.8 939.8 L1733.6 942 L1728.4 944.1 L1723.1 946.2 L1717.8 948.3 L1712.4 950.4 L1706.9 952.4 L1701.3 954.4 L1695.7 956.4 L1690 958.4 L1684.3 960.4 L1678.4 962.3 L1672.6 964.2 L1666.6 966.1 L1660.6 968 L1654.5 969.8 L1648.4 971.6 L1642.2 973.4 L1635.9 975.2 L1629.6 976.9 L1623.3 978.6 L1616.8 980.3 L1610.3 981.9 L1603.8 983.5 L1597.2 985.1 L1590.6 986.7 L1583.8 988.2 L1577.1 989.7 L1570.3 991.2 L1563.4 992.6 L1556.5 994 L1549.5 995.4 L1542.5 996.8 L1535.5 998.1 L1528.4 999.3 L1521.2 1000.6 L1514.1 1001.8 L1506.8 1003 L1499.6 1004.1 L1492.2 1005.2 L1484.9 1006.3 L1477.5 1007.3 L1470.1 1008.4 L1462.6 1009.3 L1455.1 1010.3 L1447.6 1011.2 L1440.1 1012 L1432.5 1012.8 L1424.9 1013.6 L1417.2 1014.4 L1409.5 1015.1 L1401.9 1015.8 L1394.1 1016.4 L1386.4 1017 L1378.6 1017.6 L1370.9 1018.1 L1363.1 1018.6 L1355.2 1019 L1347.4 1019.4 L1339.6 1019.8 L1331.7 1020.1 L1323.8 1020.4 L1316 1020.7 L1308.1 1020.9 L1300.2 1021.1 L1292.3 1021.2 L1284.4 1021.3 L1276.5 1021.4 L1268.5 1021.4 L1260.6 1021.4 L1252.7 1021.3 L1244.8 1021.2 L1236.9 1021.1 L1229 1020.9 L1221.1 1020.7 L1213.3 1020.4 L1205.4 1020.1 L1197.5 1019.8 L1189.7 1019.4 L1181.9 1019 L1174 1018.6 L1166.2 1018.1 L1158.5 1017.6 L1150.7 1017 L1143 1016.4 L1135.2 1015.8 L1127.6 1015.1 L1119.9 1014.4 L1112.2 1013.6 L1104.6 1012.8 L1097 1012 L1089.5 1011.2 L1082 1010.3 L1074.5 1009.3 L1067 1008.4 L1059.6 1007.3 L1052.2 1006.3 L1044.9 1005.2 L1037.5 1004.1 L1030.3 1003 L1023 1001.8 L1015.9 1000.6 L1008.7 999.3 L1001.6 998.1 L994.6 996.8 L987.6 995.4 L980.6 994 L973.7 992.6 L966.8 991.2 L960 989.7 L953.3 988.2 L946.5 986.7 L939.9 985.1 L933.3 983.5 L926.8 981.9 L920.3 980.3 L913.8 978.6 L907.5 976.9 L901.2 975.2 L894.9 973.4 L888.7 971.6 L882.6 969.8 L876.5 968 L870.5 966.1 L864.5 964.2 L858.7 962.3 L852.8 960.4 L847.1 958.4 L841.4 956.4 L835.8 954.4 L830.2 952.4 L824.7 950.4 L819.3 948.3 L814 946.2 L808.7 944.1 L803.5 942 L798.3 939.8 L793.2 937.7 L788.2 935.5 L783.3 933.3 L778.4 931 L773.6 928.8 L768.9 926.6 L764.2 924.3 L759.7 922 L755.1 919.7 L750.7 917.4 L746.3 915.1 L742.1 912.7 L737.8 910.4 L733.7 908 L729.6 905.6 L725.6 903.2 L721.7 900.8 L717.8 898.4 L714 896 L710.3 893.5 L706.7 891.1 L703.1 888.6 L699.6 886.2 L696.2 883.7 L692.9 881.2 L689.6 878.7 L686.4 876.2 L683.3 873.7 L680.2 871.2 L677.3 868.7 L674.4 866.2 L671.5 863.7 L668.8 861.2 L666.1 858.6 L663.4 856.1 L660.9 853.6 L658.4 851 L656 848.5 L653.7 845.9 L651.4 843.4 L649.2 840.8 L647.1 838.3 L645 835.7 L643 833.2 L641.1 830.6 L639.2 828.1 L637.4 825.6 L635.7 823 L634.1 820.5 L632.5 817.9 L631 815.4 L629.5 812.8 L628.1 810.3 L626.8 807.8 L625.5 805.2 L624.3 802.7 L623.2 800.2 L622.1 797.7 L621.1 795.2 L620.2 792.7 L619.3 790.2 L618.4 787.7 L617.7 785.2 L617 782.7 L616.3 780.2 L615.7 777.7 L615.2 775.2 L614.7 772.8 L614.3 770.3 L614 767.8 L613.7 765.4 L613.4 762.9 L613.2 760.5 L613.1 758.1 L613 755.6 L613 753.2 L613 750.8 L613.1 748.4 L613.2 746 L613.4 743.6 L613.6 741.2 L613.9 738.8 L614.3 736.4 L614.7 734.1 L615.1 731.7 L615.6 729.4 L616.1 727 L616.7 724.7 L617.4 722.4 L618 720 L618.8 717.7 L619.6 715.4 L620.4 713.1 L621.3 710.8 L622.2 708.5 L623.2 706.3 L624.2 704 L625.2 701.7 L626.3 699.5 L627.5 697.2 L628.7 695 L629.9 692.8 L631.2 690.6 L632.5 688.4 L633.8 686.2 L635.3 684 L636.7 681.8 L638.2 679.7 L639.7 677.5 L641.3 675.4 L642.9 673.2 L644.5 671.1 L646.2 669 L647.9 666.9 L649.7 664.8 L651.5 662.7 L653.3 660.6 L655.2 658.6 L657.1 656.5 L659 654.5 L661 652.5 L663 650.5 L665.1 648.5 L667.1 646.5 L669.3 644.5 L671.4 642.5 L673.6 640.6 L675.8 638.6 L678.1 636.7 L680.3 634.7 L682.6 632.8 L685 630.9 L687.3 629.1 L689.8 627.2 L692.2 625.3 L694.6 623.5 L697.1 621.6 L699.7 619.8 L702.2 618 L704.8 616.2 L707.4 614.4 L710 612.6 L712.7 610.9 L715.3 609.1 L718.1 607.4 L720.8 605.6 L723.6 603.9 L726.3 602.2 L729.1 600.5 L732 598.8 L734.8 597.2 L737.7 595.5 L740.6 593.9 L743.6 592.3 L746.5 590.6 L749.5 589 L752.5 587.5 L755.5 585.9 L758.6 584.3 L761.6 582.8 L764.7 581.2 L767.8 579.7 L770.9 578.2 L774.1 576.7 L777.2 575.2 L780.4 573.7 L783.6 572.3 L786.9 570.8 L790.1 569.4 L793.4 567.9 L796.6 566.5 L799.9 565.1 L803.2 563.7 L806.6 562.4 L809.9 561 L813.3 559.6 L816.7 558.3 L820.1 557 L823.5 555.7 L826.9 554.4 L830.4 553.1 L833.8 551.8 L837.3 550.5 L840.8 549.3 L844.3 548.1 L847.8 546.8 L851.4 545.6 L854.9 544.4 L858.5 543.2 L862 542.1 L865.6 540.9 L869.2 539.7 L872.9 538.6 L876.5 537.5 L880.1 536.4 L883.8 535.3 L887.5 534.2 L891.1 533.1 L894.8 532 L898.5 531 L902.2 529.9 L906 528.9 L909.7 527.9 L913.4 526.9 L917.2 525.9 L921 524.9 L924.7 523.9 L928.5 523 L932.3 522 L936.1 521.1 L940 520.2 L943.8 519.3 L947.6 518.4 L951.5 517.5 L955.3 516.6 L959.2 515.8 L963.1 514.9 L966.9 514.1 L970.8 513.2 L974.7 512.4 L978.6 511.6 L982.5 510.8 L986.5 510.1 L990.4 509.3 L994.3 508.5 L998.3 507.8 L1002.2 507.1 L1006.2 506.3 L1010.1 505.6 L1014.1 504.9 L1018.1 504.2 L1022.1 503.6 L1026.1 502.9 L1030.1 502.3 L1034.1 501.6 L1038.1 501 L1042.1 500.4 L1046.1 499.8 L1050.1 499.2 L1054.2 498.6 L1058.2 498 L1062.2 497.5 L1066.3 496.9 L1070.3 496.4 L1074.4 495.8 L1078.5 495.3 L1082.5 494.8 L1086.6 494.3 L1090.7 493.8 L1094.8 493.4 L1098.8 492.9 L1102.9 492.5 L1107 492 L1111.1 491.6 L1115.2 491.2 L1119.3 490.8 L1123.4 490.4 L1127.5 490 L1131.6 489.7 L1135.8 489.3 L1139.9 489 L1144 488.6 L1148.1 488.3 L1152.3 488 L1156.4 487.7 L1160.5 487.4 L1164.6 487.1 L1168.8 486.8 L1172.9 486.6 L1177.1 486.3 L1181.2 486.1 L1185.4 485.9 L1189.5 485.7 L1193.7 485.5 L1197.8 485.3 L1202 485.1 L1206.1 484.9 L1210.3 484.8 L1214.4 484.6 L1218.6 484.5 L1222.7 484.3 L1226.9 484.2 L1231.1 484.1 L1235.2 484 L1239.4 483.9 L1243.6 483.9 L1247.7 483.8 L1251.9 483.8 L1256.1 483.7 L1260.2 483.7 L1264.4 483.7 Z" fill="#fff" fill-rule="evenodd"/>
<text x="1220" y="250" font-family='"Liberation Serif","Noto Serif CJK SC",serif' font-size="46" font-weight="500" fill="#000" text-anchor="middle" textLength="1152">2025年1—6月中国以金额为准出口纺织面鞋前十省市占比</text>
<polyline points="984,348 1001.4,348 1034.7,498" fill="none" stroke="#A6A6A6" stroke-width="3"/>
<polyline points="951.5,397 971,397 994,504.8" fill="none" stroke="#A6A6A6" stroke-width="3"/>
<polyline points="920,443 938.8,443 951.5,513" fill="none" stroke="#A6A6A6" stroke-width="3"/>
<polyline points="875.6,495 893,495 901.7,529.7" fill="none" stroke="#A6A6A6" stroke-width="3"/>
<polyline points="767.5,538 788,538 807.4,560" fill="none" stroke="#A6A6A6" stroke-width="3"/>
<text x="777" y="351" font-size="37" font-weight="bold" fill="#000" text-anchor="start" ><tspan font-family='"Noto Serif CJK SC",serif' letter-spacing="1.5">四川省</tspan><tspan font-family='"DejaVu Sans","Liberation Sans",sans-serif' font-size="29.5" dx="8">1.4%</tspan></text>
<text x="743.7" y="400" font-size="37" font-weight="bold" fill="#000" text-anchor="start" ><tspan font-family='"Noto Serif CJK SC",serif' letter-spacing="1.5">湖南省</tspan><tspan font-family='"DejaVu Sans","Liberation Sans",sans-serif' font-size="29.5" dx="8">1.4%</tspan></text>
<text x="717" y="449" font-size="37" font-weight="bold" fill="#000" text-anchor="start" ><tspan font-family='"Noto Serif CJK SC",serif' letter-spacing="1.5">江西省</tspan><tspan font-family='"DejaVu Sans","Liberation Sans",sans-serif' font-size="29.5" dx="8">1.6%</tspan></text>
<text x="671.6" y="497" font-size="37" font-weight="bold" fill="#000" text-anchor="start" ><tspan font-family='"Noto Serif CJK SC",serif' letter-spacing="1.5">上海市</tspan><tspan font-family='"DejaVu Sans","Liberation Sans",sans-serif' font-size="29.5" dx="8">2.2%</tspan></text>
<text x="560.8" y="541" font-size="37" font-weight="bold" fill="#000" text-anchor="start" ><tspan font-family='"Noto Serif CJK SC",serif' letter-spacing="1.5">江苏省</tspan><tspan font-family='"DejaVu Sans","Liberation Sans",sans-serif' font-size="29.5" dx="8">5.0%</tspan></text>
<text x="1120.6" y="535" font-size="34.5" font-weight="bold" fill="#000" text-anchor="start" ><tspan font-family='"Noto Serif CJK SC",serif' letter-spacing="1.5">其他地区</tspan><tspan font-family='"DejaVu Sans","Liberation Sans",sans-serif' font-size="29.5" dx="8"></tspan></text>
<text x="1191.6" y="574" font-family='"DejaVu Sans","Liberation Sans",sans-serif' font-size="27.5" font-weight="bold" fill="#000" text-anchor="middle" >7.2%</text>
<text x="731" y="651" font-size="37" font-weight="bold" fill="#fff" text-anchor="start" ><tspan font-family='"Noto Serif CJK SC",serif' letter-spacing="1.5">新疆</tspan><tspan font-family='"DejaVu Sans","Liberation Sans",sans-serif' font-size="29.5" dx="8">5.8%</tspan></text>
<text x="659.4" y="719" font-size="37" font-weight="bold" fill="#fff" text-anchor="start" ><tspan font-family='"Noto Serif CJK SC",serif' letter-spacing="1.5">山东省</tspan><tspan font-family='"DejaVu Sans","Liberation Sans",sans-serif' font-size="29.5" dx="8">6.0%</tspan></text>
<text x="897.2" y="838" font-size="37" font-weight="bold" fill="#fff" text-anchor="start" ><tspan font-family='"Noto Serif CJK SC",serif' letter-spacing="1.5">广东省</tspan><tspan font-family='"DejaVu Sans","Liberation Sans",sans-serif' font-size="29.5" dx="8">18.1%</tspan></text>
<text x="1371.8" y="865" font-size="37" font-weight="bold" fill="#fff" text-anchor="start" ><tspan font-family='"Noto Serif CJK SC",serif' letter-spacing="1.5">浙江省</tspan><tspan font-family='"DejaVu Sans","Liberation Sans",sans-serif' font-size="29.5" dx="8">21.4%</tspan></text>
<text x="1413.4" y="606" font-size="37" font-weight="bold" fill="#fff" text-anchor="start" ><tspan font-family='"Noto Serif CJK SC",serif' letter-spacing="1.5">福建省</tspan><tspan font-family='"DejaVu Sans","Liberation Sans",sans-serif' font-size="29.5" dx="8">29.9%</tspan></text>
<line x1="580" y1="1887.4" x2="1899.6" y2="1887.4" stroke="#808080" stroke-width="3.5"/>
<text x="548.5" y="1897.8" font-family='"DejaVu Sans Condensed","DejaVu Sans","Liberation Sans",sans-serif' font-size="29" font-weight="bold" fill="#000" text-anchor="end" >0</text>
<line x1="580" y1="1755.1" x2="1899.6" y2="1755.1" stroke="#808080" stroke-width="3.5"/>
<text x="548.5" y="1765.5" font-family='"DejaVu Sans Condensed","DejaVu Sans","Liberation Sans",sans-serif' font-size="29" font-weight="bold" fill="#000" text-anchor="end" >5</text>
<line x1="580" y1="1622.8" x2="1899.6" y2="1622.8" stroke="#808080" stroke-width="3.5"/>
<text x="548.5" y="1633.2" font-family='"DejaVu Sans Condensed","DejaVu Sans","Liberation Sans",sans-serif' font-size="29" font-weight="bold" fill="#000" text-anchor="end" >10</text>
<line x1="580" y1="1490.5" x2="1899.6" y2="1490.5" stroke="#808080" stroke-width="3.5"/>
<text x="548.5" y="1500.9" font-family='"DejaVu Sans Condensed","DejaVu Sans","Liberation Sans",sans-serif' font-size="29" font-weight="bold" fill="#000" text-anchor="end" >15</text>
<line x1="580" y1="1358.2" x2="1899.6" y2="1358.2" stroke="#808080" stroke-width="3.5"/>
<text x="548.5" y="1368.6" font-family='"DejaVu Sans Condensed","DejaVu Sans","Liberation Sans",sans-serif' font-size="29" font-weight="bold" fill="#000" text-anchor="end" >20</text>
<text x="1934" y="1368.6" font-family='"DejaVu Sans Condensed","DejaVu Sans","Liberation Sans",sans-serif' font-size="29" font-weight="bold" fill="#000" text-anchor="start" >40</text>
<text x="1934" y="1500.9" font-family='"DejaVu Sans Condensed","DejaVu Sans","Liberation Sans",sans-serif' font-size="29" font-weight="bold" fill="#000" text-anchor="start" >20</text>
<text x="1934" y="1633.2" font-family='"DejaVu Sans Condensed","DejaVu Sans","Liberation Sans",sans-serif' font-size="29" font-weight="bold" fill="#000" text-anchor="start" >0</text>
<text x="1934" y="1765.5" font-family='"DejaVu Sans Condensed","DejaVu Sans","Liberation Sans",sans-serif' font-size="29" font-weight="bold" fill="#000" text-anchor="start" >-20</text>
<text x="1934" y="1897.8" font-family='"DejaVu Sans Condensed","DejaVu Sans","Liberation Sans",sans-serif' font-size="29" font-weight="bold" fill="#000" text-anchor="start" >-40</text>
<rect x="613.3" y="1448.7" width="65.4" height="437.3" fill="#3B8CA4"/>
<polygon points="613.3,1448.7 634.3,1469.7 634.3,1865 613.3,1886" fill="#2B7187"/>
<polygon points="678.7,1448.7 657.7,1469.7 657.7,1865 678.7,1886" fill="#1F5262"/>
<polygon points="613.3,1448.7 678.7,1448.7 657.7,1469.7 634.3,1469.7" fill="#3D90A8"/>
<polygon points="613.3,1886 678.7,1886 657.7,1865 634.3,1865" fill="#1D4D5C"/>
<text x="646" y="1944.5" font-family='"Noto Serif CJK SC",serif' font-size="35.5" font-weight="bold" fill="#222" text-anchor="middle" >福建省</text>
<rect x="745.2" y="1574.9" width="65.4" height="311.1" fill="#3B8CA4"/>
<polygon points="745.2,1574.9 766.2,1595.9 766.2,1865 745.2,1886" fill="#2B7187"/>
<polygon points="810.6,1574.9 789.6,1595.9 789.6,1865 810.6,1886" fill="#1F5262"/>
<polygon points="745.2,1574.9 810.6,1574.9 789.6,1595.9 766.2,1595.9" fill="#3D90A8"/>
<polygon points="745.2,1886 810.6,1886 789.6,1865 766.2,1865" fill="#1D4D5C"/>
<text x="777.9" y="1944.5" font-family='"Noto Serif CJK SC",serif' font-size="35.5" font-weight="bold" fill="#222" text-anchor="middle" >浙江省</text>
<rect x="877.2" y="1622.8" width="65.4" height="263.2" fill="#3B8CA4"/>
<polygon points="877.2,1622.8 898.2,1643.8 898.2,1865 877.2,1886" fill="#2B7187"/>
<polygon points="942.6,1622.8 921.6,1643.8 921.6,1865 942.6,1886" fill="#1F5262"/>
<polygon points="877.2,1622.8 942.6,1622.8 921.6,1643.8 898.2,1643.8" fill="#3D90A8"/>
<polygon points="877.2,1886 942.6,1886 921.6,1865 898.2,1865" fill="#1D4D5C"/>
<text x="909.9" y="1944.5" font-family='"Noto Serif CJK SC",serif' font-size="35.5" font-weight="bold" fill="#222" text-anchor="middle" >广东省</text>
<rect x="1009.2" y="1799.8" width="65.4" height="86.2" fill="#3B8CA4"/>
<polygon points="1009.2,1799.8 1030.2,1820.8 1030.2,1865 1009.2,1886" fill="#2B7187"/>
<polygon points="1074.6,1799.8 1053.6,1820.8 1053.6,1865 1074.6,1886" fill="#1F5262"/>
<polygon points="1009.2,1799.8 1074.6,1799.8 1053.6,1820.8 1030.2,1820.8" fill="#3D90A8"/>
<polygon points="1009.2,1886 1074.6,1886 1053.6,1865 1030.2,1865" fill="#1D4D5C"/>
<text x="1041.9" y="1944.5" font-family='"Noto Serif CJK SC",serif' font-size="35.5" font-weight="bold" fill="#222" text-anchor="middle" >山东省</text>
<rect x="1141.1" y="1803" width="65.4" height="83" fill="#3B8CA4"/>
<polygon points="1141.1,1803 1162.1,1824 1162.1,1865 1141.1,1886" fill="#2B7187"/>
<polygon points="1206.5,1803 1185.5,1824 1185.5,1865 1206.5,1886" fill="#1F5262"/>
<polygon points="1141.1,1803 1206.5,1803 1185.5,1824 1162.1,1824" fill="#3D90A8"/>
<polygon points="1141.1,1886 1206.5,1886 1185.5,1865 1162.1,1865" fill="#1D4D5C"/>
<text x="1173.8" y="1944.5" font-family='"Noto Serif CJK SC",serif' font-size="35.5" font-weight="bold" fill="#222" text-anchor="middle" >新疆</text>
<rect x="1273.1" y="1815.4" width="65.4" height="70.6" fill="#3B8CA4"/>
<polygon points="1273.1,1815.4 1294.1,1836.4 1294.1,1865 1273.1,1886" fill="#2B7187"/>
<polygon points="1338.5,1815.4 1317.5,1836.4 1317.5,1865 1338.5,1886" fill="#1F5262"/>
<polygon points="1273.1,1815.4 1338.5,1815.4 1317.5,1836.4 1294.1,1836.4" fill="#3D90A8"/>
<polygon points="1273.1,1886 1338.5,1886 1317.5,1865 1294.1,1865" fill="#1D4D5C"/>
<text x="1305.8" y="1944.5" font-family='"Noto Serif CJK SC",serif' font-size="35.5" font-weight="bold" fill="#222" text-anchor="middle" >江苏省</text>
<rect x="1405" y="1857" width="65.4" height="29" fill="#3B8CA4"/>
<polygon points="1405,1857 1419.6,1871.5 1419.6,1871.5 1405,1886" fill="#2B7187"/>
<polygon points="1470.4,1857 1455.9,1871.5 1455.9,1871.5 1470.4,1886" fill="#1F5262"/>
<polygon points="1405,1857 1470.4,1857 1455.9,1871.5 1419.6,1871.5" fill="#3D90A8"/>
<polygon points="1405,1886 1470.4,1886 1455.9,1871.5 1419.6,1871.5" fill="#1D4D5C"/>
<text x="1437.7" y="1944.5" font-family='"Noto Serif CJK SC",serif' font-size="35.5" font-weight="bold" fill="#222" text-anchor="middle" >上海市</text>
<rect x="1537" y="1865.2" width="65.4" height="20.8" fill="#3B8CA4"/>
<polygon points="1537,1865.2 1547.4,1875.6 1547.4,1875.6 1537,1886" fill="#2B7187"/>
<polygon points="1602.4,1865.2 1592,1875.6 1592,1875.6 1602.4,1886" fill="#1F5262"/>
<polygon points="1537,1865.2 1602.4,1865.2 1592,1875.6 1547.4,1875.6" fill="#3D90A8"/>
<polygon points="1537,1886 1602.4,1886 1592,1875.6 1547.4,1875.6" fill="#1D4D5C"/>
<text x="1569.7" y="1944.5" font-family='"Noto Serif CJK SC",serif' font-size="35.5" font-weight="bold" fill="#222" text-anchor="middle" >江西省</text>
<rect x="1669" y="1868.9" width="65.4" height="17.1" fill="#3B8CA4"/>
<polygon points="1669,1868.9 1677.5,1877.4 1677.5,1877.4 1669,1886" fill="#2B7187"/>
<polygon points="1734.4,1868.9 1725.8,1877.4 1725.8,1877.4 1734.4,1886" fill="#1F5262"/>
<polygon points="1669,1868.9 1734.4,1868.9 1725.8,1877.4 1677.5,1877.4" fill="#3D90A8"/>
<polygon points="1669,1886 1734.4,1886 1725.8,1877.4 1677.5,1877.4" fill="#1D4D5C"/>
<text x="1701.7" y="1944.5" font-family='"Noto Serif CJK SC",serif' font-size="35.5" font-weight="bold" fill="#222" text-anchor="middle" >湖南省</text>
<rect x="1800.9" y="1868.1" width="65.4" height="17.9" fill="#3B8CA4"/>
<polygon points="1800.9,1868.1 1809.9,1877 1809.9,1877 1800.9,1886" fill="#2B7187"/>
<polygon points="1866.3,1868.1 1857.4,1877 1857.4,1877 1866.3,1886" fill="#1F5262"/>
<polygon points="1800.9,1868.1 1866.3,1868.1 1857.4,1877 1809.9,1877" fill="#3D90A8"/>
<polygon points="1800.9,1886 1866.3,1886 1857.4,1877 1809.9,1877" fill="#1D4D5C"/>
<text x="1833.6" y="1944.5" font-family='"Noto Serif CJK SC",serif' font-size="35.5" font-weight="bold" fill="#222" text-anchor="middle" >四川省</text>
<polyline points="646,1655.9 777.9,1651.2 909.9,1747.2 1041.9,1593.7 1173.8,1666.5 1305.8,1692.3 1437.7,1601.6 1569.7,1393.3 1701.7,1750.5 1833.6,1819.3" fill="none" stroke="#ABD7E4" stroke-width="10" stroke-linejoin="round" stroke-linecap="round"/>
<polyline points="646,1653.9 777.9,1649.2 909.9,1745.2 1041.9,1591.7 1173.8,1664.5 1305.8,1690.3 1437.7,1599.6 1569.7,1391.3 1701.7,1748.5 1833.6,1817.3" fill="none" stroke="#C6E5EF" stroke-width="3" stroke-linejoin="round" stroke-linecap="round"/>
<polygon points="634.5,1655.9 646,1644.4 646,1655.9" fill="#E8E8E8"/><polygon points="646,1644.4 657.5,1655.9 646,1655.9" fill="#B9BDBF"/><polygon points="657.5,1655.9 646,1667.4 646,1655.9" fill="#595F63"/><polygon points="646,1667.4 634.5,1655.9 646,1655.9" fill="#8A9195"/>
<polygon points="766.4,1651.2 777.9,1639.7 777.9,1651.2" fill="#E8E8E8"/><polygon points="777.9,1639.7 789.4,1651.2 777.9,1651.2" fill="#B9BDBF"/><polygon points="789.4,1651.2 777.9,1662.7 777.9,1651.2" fill="#595F63"/><polygon points="777.9,1662.7 766.4,1651.2 777.9,1651.2" fill="#8A9195"/>
<polygon points="898.4,1747.2 909.9,1735.7 909.9,1747.2" fill="#E8E8E8"/><polygon points="909.9,1735.7 921.4,1747.2 909.9,1747.2" fill="#B9BDBF"/><polygon points="921.4,1747.2 909.9,1758.7 909.9,1747.2" fill="#595F63"/><polygon points="909.9,1758.7 898.4,1747.2 909.9,1747.2" fill="#8A9195"/>
<polygon points="1030.4,1593.7 1041.9,1582.2 1041.9,1593.7" fill="#E8E8E8"/><polygon points="1041.9,1582.2 1053.4,1593.7 1041.9,1593.7" fill="#B9BDBF"/><polygon points="1053.4,1593.7 1041.9,1605.2 1041.9,1593.7" fill="#595F63"/><polygon points="1041.9,1605.2 1030.4,1593.7 1041.9,1593.7" fill="#8A9195"/>
<polygon points="1162.3,1666.5 1173.8,1655 1173.8,1666.5" fill="#E8E8E8"/><polygon points="1173.8,1655 1185.3,1666.5 1173.8,1666.5" fill="#B9BDBF"/><polygon points="1185.3,1666.5 1173.8,1678 1173.8,1666.5" fill="#595F63"/><polygon points="1173.8,1678 1162.3,1666.5 1173.8,1666.5" fill="#8A9195"/>
<polygon points="1294.3,1692.3 1305.8,1680.8 1305.8,1692.3" fill="#E8E8E8"/><polygon points="1305.8,1680.8 1317.3,1692.3 1305.8,1692.3" fill="#B9BDBF"/><polygon points="1317.3,1692.3 1305.8,1703.8 1305.8,1692.3" fill="#595F63"/><polygon points="1305.8,1703.8 1294.3,1692.3 1305.8,1692.3" fill="#8A9195"/>
<polygon points="1426.2,1601.6 1437.7,1590.1 1437.7,1601.6" fill="#E8E8E8"/><polygon points="1437.7,1590.1 1449.2,1601.6 1437.7,1601.6" fill="#B9BDBF"/><polygon points="1449.2,1601.6 1437.7,1613.1 1437.7,1601.6" fill="#595F63"/><polygon points="1437.7,1613.1 1426.2,1601.6 1437.7,1601.6" fill="#8A9195"/>
<polygon points="1558.2,1393.3 1569.7,1381.8 1569.7,1393.3" fill="#E8E8E8"/><polygon points="1569.7,1381.8 1581.2,1393.3 1569.7,1393.3" fill="#B9BDBF"/><polygon points="1581.2,1393.3 1569.7,1404.8 1569.7,1393.3" fill="#595F63"/><polygon points="1569.7,1404.8 1558.2,1393.3 1569.7,1393.3" fill="#8A9195"/>
<polygon points="1690.2,1750.5 1701.7,1739 1701.7,1750.5" fill="#E8E8E8"/><polygon points="1701.7,1739 1713.2,1750.5 1701.7,1750.5" fill="#B9BDBF"/><polygon points="1713.2,1750.5 1701.7,1762 1701.7,1750.5" fill="#595F63"/><polygon points="1701.7,1762 1690.2,1750.5 1701.7,1750.5" fill="#8A9195"/>
<polygon points="1822.1,1819.3 1833.6,1807.8 1833.6,1819.3" fill="#E8E8E8"/><polygon points="1833.6,1807.8 1845.1,1819.3 1833.6,1819.3" fill="#B9BDBF"/><polygon points="1845.1,1819.3 1833.6,1830.8 1833.6,1819.3" fill="#595F63"/><polygon points="1833.6,1830.8 1822.1,1819.3 1833.6,1819.3" fill="#8A9195"/>
<text x="646" y="1693.9" font-family='"DejaVu Sans Condensed","DejaVu Sans","Liberation Sans",sans-serif' font-size="27" font-weight="bold" fill="#fff" text-anchor="middle" >-5.0</text>
<text x="777.9" y="1692.2" font-family='"DejaVu Sans Condensed","DejaVu Sans","Liberation Sans",sans-serif' font-size="27" font-weight="bold" fill="#fff" text-anchor="middle" >-4.3</text>
<text x="909.9" y="1788.2" font-family='"DejaVu Sans Condensed","DejaVu Sans","Liberation Sans",sans-serif' font-size="27" font-weight="bold" fill="#fff" text-anchor="middle" >-18.8</text>
<text x="1038.9" y="1573.7" font-family='"DejaVu Sans Condensed","DejaVu Sans","Liberation Sans",sans-serif' font-size="27" font-weight="bold" fill="#000" text-anchor="middle" >4.4</text>
<text x="1163.8" y="1700.5" font-family='"DejaVu Sans Condensed","DejaVu Sans","Liberation Sans",sans-serif' font-size="27" font-weight="bold" fill="#000" text-anchor="middle" >-6.6</text>
<text x="1302.8" y="1729.3" font-family='"DejaVu Sans Condensed","DejaVu Sans","Liberation Sans",sans-serif' font-size="27" font-weight="bold" fill="#000" text-anchor="middle" >-10.5</text>
<text x="1410.7" y="1586.6" font-family='"DejaVu Sans Condensed","DejaVu Sans","Liberation Sans",sans-serif' font-size="27" font-weight="bold" fill="#000" text-anchor="middle" >3.2</text>
<text x="1619.7" y="1391.3" font-family='"DejaVu Sans Condensed","DejaVu Sans","Liberation Sans",sans-serif' font-size="27" font-weight="bold" fill="#000" text-anchor="middle" >34.7</text>
<text x="1694.7" y="1793.5" font-family='"DejaVu Sans Condensed","DejaVu Sans","Liberation Sans",sans-serif' font-size="27" font-weight="bold" fill="#000" text-anchor="middle" >-19.3</text>
<text x="1855.6" y="1855.3" font-family='"DejaVu Sans Condensed","DejaVu Sans","Liberation Sans",sans-serif' font-size="27" font-weight="bold" fill="#000" text-anchor="middle" >-29.7</text>
<text x="1233.8" y="1283" font-family='"Liberation Serif","Noto Serif CJK SC",serif' font-size="46" font-weight="500" fill="#000" text-anchor="middle" textLength="1152">2025年1—6月中国以金额为准出口纺织面鞋前十省市同比</text>
<text x="477.6" y="1784" font-family='"Noto Serif CJK SC",serif' font-size="37" font-weight="normal" fill="#000" text-anchor="middle" >亿</text>
<text x="477.6" y="1821" font-family='"Noto Serif CJK SC",serif' font-size="37" font-weight="normal" fill="#000" text-anchor="middle" >美</text>
<text x="477.6" y="1858" font-family='"Noto Serif CJK SC",serif' font-size="37" font-weight="normal" fill="#000" text-anchor="middle" >元</text>
<rect x="1041.5" y="1987.7" width="75.5" height="21" fill="#1D4D5C"/>
<polygon points="1041.5,1987.7 1117,1987.7 1110,1994.5 1048.5,1994.5" fill="#3D90A8"/>
<polygon points="1041.5,2008.7 1117,2008.7 1110,2002 1048.5,2002" fill="#2B7187"/>
<polygon points="1041.5,1987.7 1048.5,1994.5 1048.5,2002 1041.5,2008.7" fill="#2B7187"/>
<text x="1128" y="2011" font-family='"Noto Serif CJK SC",serif' font-size="35.5" font-weight="bold" fill="#222" text-anchor="start" >出口额</text>
<line x1="1268" y1="1999" x2="1345" y2="1999" stroke="#B5DCE8" stroke-width="7" stroke-linecap="round"/>
<polygon points="1294.5,1999 1305,1988.5 1305,1999" fill="#E8E8E8"/><polygon points="1305,1988.5 1315.5,1999 1305,1999" fill="#B9BDBF"/><polygon points="1315.5,1999 1305,2009.5 1305,1999" fill="#595F63"/><polygon points="1305,2009.5 1294.5,1999 1305,1999" fill="#8A9195"/>
<text x="1355" y="2011" font-size="35.5" font-weight="bold" fill="#222"><tspan font-family='"Noto Serif CJK SC",serif'>同比</tspan><tspan font-family='"DejaVu Sans","Liberation Sans",sans-serif' font-size="28">%</tspan></text>
<polygon points="1878.3,3033.8 1877.7,3036.6 1877,3039.3 1876.2,3042.1 1875.4,3044.9 1874.4,3047.7 1873.4,3050.6 1872.3,3053.4 1871.2,3056.2 1869.9,3059 1868.6,3061.8 1867.1,3064.7 1865.6,3067.5 1864,3070.3 1862.4,3073.2 1860.6,3076 1858.8,3078.8 1856.8,3081.7 1854.8,3084.5 1852.7,3087.3 1850.5,3090.2 1848.3,3093 1845.9,3095.8 1843.4,3098.7 1840.9,3101.5 1838.2,3104.3 1835.5,3107.1 1832.7,3110 1829.8,3112.8 1826.8,3115.6 1823.7,3118.4 1820.5,3121.2 1817.3,3124 1813.9,3126.7 1810.4,3129.5 1806.9,3132.3 1803.2,3135 1799.5,3137.7 1795.7,3140.5 1791.7,3143.2 1787.7,3145.9 1783.6,3148.6 1779.4,3151.3 1775.1,3153.9 1770.7,3156.6 1766.2,3159.2 1761.7,3161.8 1757,3164.4 1752.2,3167 1747.4,3169.6 1742.4,3172.1 1737.4,3174.7 1732.3,3177.2 1727,3179.7 1721.7,3182.1 1716.3,3184.6 1710.8,3187 1705.2,3189.4 1699.6,3191.8 1693.8,3194.1 1688,3196.5 1682,3198.8 1676,3201 1669.9,3203.3 1663.7,3205.5 1657.4,3207.7 1651,3209.9 1644.6,3212 1638,3214.1 1631.4,3216.2 1624.7,3218.2 1618,3220.2 1611.1,3222.2 1604.2,3224.1 1597.2,3226 1590.1,3227.9 1582.9,3229.8 1575.7,3231.6 1568.4,3233.3 1561,3235.1 1553.6,3236.7 1546.1,3238.4 1538.5,3240 1530.9,3241.6 1523.2,3243.1 1515.4,3244.6 1507.6,3246 1499.7,3247.5 1491.8,3248.8 1483.8,3250.1 1475.7,3251.4 1467.6,3252.7 1459.5,3253.9 1451.3,3255 1443,3256.1 1434.8,3257.2 1426.4,3258.2 1418,3259.2 1409.6,3260.1 1401.2,3260.9 1392.7,3261.8 1384.2,3262.6 1375.6,3263.3 1368.8,3412.1 1376.9,3411.3 1385,3410.4 1393,3409.5 1401,3408.6 1409,3407.6 1416.9,3406.6 1424.8,3405.5 1432.7,3404.3 1440.5,3403.1 1448.3,3401.9 1456,3400.6 1463.7,3399.3 1471.3,3397.9 1478.9,3396.5 1486.4,3395 1493.9,3393.5 1501.3,3391.9 1508.7,3390.3 1516,3388.6 1523.2,3386.9 1530.4,3385.2 1537.6,3383.4 1544.6,3381.6 1551.6,3379.7 1558.6,3377.8 1565.5,3375.9 1572.3,3373.9 1579,3371.8 1585.7,3369.8 1592.3,3367.7 1598.8,3365.5 1605.3,3363.4 1611.7,3361.1 1618,3358.9 1624.2,3356.6 1630.4,3354.3 1636.4,3352 1642.4,3349.6 1648.4,3347.2 1654.2,3344.7 1660,3342.3 1665.7,3339.8 1671.3,3337.2 1676.8,3334.7 1682.2,3332.1 1687.6,3329.5 1692.9,3326.8 1698.1,3324.2 1703.2,3321.5 1708.2,3318.8 1713.1,3316.1 1718,3313.3 1722.7,3310.5 1727.4,3307.7 1732,3304.9 1736.5,3302.1 1740.9,3299.2 1745.2,3296.3 1749.5,3293.5 1753.6,3290.6 1757.7,3287.6 1761.7,3284.7 1765.6,3281.7 1769.4,3278.8 1773.1,3275.8 1776.7,3272.8 1780.3,3269.8 1783.7,3266.8 1787.1,3263.8 1790.4,3260.7 1793.6,3257.7 1796.7,3254.6 1799.7,3251.6 1802.7,3248.5 1805.5,3245.4 1808.3,3242.3 1811,3239.2 1813.6,3236.1 1816.1,3233 1818.5,3229.9 1820.8,3226.8 1823.1,3223.7 1825.3,3220.6 1827.4,3217.5 1829.4,3214.4 1831.3,3211.2 1833.1,3208.1 1834.9,3205 1836.6,3201.9 1838.2,3198.8 1839.7,3195.6 1841.2,3192.5 1842.5,3189.4 1843.8,3186.3 1845,3183.2 1846.2,3180.1 1847.2,3177 1848.2,3173.9 1849.1,3170.8 1849.9,3167.7 1850.7,3164.7 1851.4,3161.6" fill="url(#g14)" stroke="#fff" stroke-width="3" stroke-linejoin="round"/>
<polygon points="1375.6,3263.3 1367,3264 1358.4,3264.6 1349.8,3265.2 1341.2,3265.7 1332.5,3266.2 1323.8,3266.7 1315.1,3267.1 1306.4,3267.4 1297.6,3267.7 1288.9,3267.9 1280.1,3268.1 1271.4,3268.3 1262.6,3268.4 1253.8,3268.4 1245.1,3268.4 1236.3,3268.4 1227.5,3268.3 1218.8,3268.1 1210,3267.9 1201.3,3267.6 1192.5,3267.3 1183.8,3267 1175.1,3266.6 1166.4,3266.1 1157.7,3265.7 1149.1,3265.1 1140.5,3264.5 1131.9,3263.9 1123.3,3263.2 1114.8,3262.4 1106.3,3261.7 1097.8,3260.8 1089.4,3259.9 1081,3259 1072.6,3258 1064.3,3257 1056,3256 1047.8,3254.9 1039.6,3253.7 1031.5,3252.5 1023.4,3251.3 1015.4,3250 1007.4,3248.7 999.5,3247.3 991.6,3245.9 983.8,3244.4 976.1,3242.9 968.4,3241.4 960.8,3239.8 953.2,3238.2 945.7,3236.5 938.3,3234.9 931,3233.1 923.7,3231.4 916.5,3229.6 909.3,3227.7 902.3,3225.8 895.3,3223.9 888.4,3222 881.5,3220 874.8,3218 868.1,3216 861.5,3213.9 855,3211.8 848.6,3209.7 842.2,3207.5 835.9,3205.3 829.8,3203.1 823.7,3200.8 817.7,3198.6 811.7,3196.3 805.9,3193.9 800.2,3191.6 794.5,3189.2 788.9,3186.8 783.4,3184.4 778.1,3181.9 772.8,3179.5 767.5,3177 762.4,3174.5 757.4,3172 752.5,3169.4 747.6,3166.8 742.9,3164.3 738.2,3161.7 733.7,3159 729.2,3156.4 724.8,3153.8 720.5,3151.1 716.3,3148.4 712.2,3145.7 708.2,3143 704.3,3140.3 700.5,3137.6 696.8,3134.9 693.1,3132.1 689.6,3129.4 686.1,3126.6 682.8,3123.8 679.5,3121 676.4,3118.3 673.3,3115.5 670.3,3112.7 667.4,3109.9 664.6,3107 661.9,3104.2 689.2,3239.1 691.8,3242.2 694.6,3245.3 697.4,3248.4 700.4,3251.4 703.4,3254.5 706.5,3257.5 709.7,3260.6 712.9,3263.6 716.3,3266.6 719.7,3269.6 723.3,3272.6 726.9,3275.6 730.6,3278.6 734.4,3281.6 738.3,3284.5 742.3,3287.5 746.3,3290.4 750.5,3293.3 754.7,3296.2 759,3299 763.4,3301.9 767.9,3304.7 772.5,3307.5 777.1,3310.3 781.9,3313.1 786.7,3315.9 791.7,3318.6 796.7,3321.3 801.7,3324 806.9,3326.6 812.2,3329.3 817.5,3331.9 822.9,3334.5 828.5,3337 834,3339.5 839.7,3342 845.5,3344.5 851.3,3346.9 857.2,3349.4 863.2,3351.7 869.3,3354.1 875.4,3356.4 881.6,3358.7 887.9,3360.9 894.3,3363.1 900.7,3365.3 907.2,3367.4 913.8,3369.6 920.5,3371.6 927.2,3373.6 934,3375.6 940.9,3377.6 947.8,3379.5 954.8,3381.4 961.8,3383.2 968.9,3385 976.1,3386.7 983.3,3388.4 990.6,3390.1 998,3391.7 1005.4,3393.3 1012.9,3394.8 1020.4,3396.3 1027.9,3397.7 1035.5,3399.1 1043.2,3400.4 1050.9,3401.7 1058.7,3403 1066.5,3404.2 1074.3,3405.3 1082.2,3406.4 1090.1,3407.5 1098,3408.5 1106,3409.4 1114.1,3410.3 1122.1,3411.2 1130.2,3412 1138.3,3412.7 1146.4,3413.4 1154.6,3414 1162.8,3414.6 1171,3415.2 1179.2,3415.6 1187.4,3416.1 1195.7,3416.5 1203.9,3416.8 1212.2,3417.1 1220.5,3417.3 1228.8,3417.4 1237,3417.5 1245.3,3417.6 1253.6,3417.6 1261.9,3417.6 1270.2,3417.5 1278.5,3417.3 1286.8,3417.1 1295.1,3416.8 1303.3,3416.5 1311.6,3416.1 1319.8,3415.7 1328,3415.2 1336.2,3414.7 1344.4,3414.1 1352.6,3413.5 1360.7,3412.8 1368.8,3412.1" fill="url(#g15)" stroke="#fff" stroke-width="3" stroke-linejoin="round"/>
<polygon points="661.9,3104.2 659.2,3101.4 656.7,3098.6 654.2,3095.8 651.9,3092.9 649.6,3090.1 647.4,3087.3 645.3,3084.4 643.3,3081.6 641.4,3078.8 639.5,3075.9 637.8,3073.1 636.1,3070.3 634.5,3067.4 633,3064.6 631.6,3061.8 630.3,3059 629,3056.2 627.9,3053.3 626.8,3050.5 625.7,3047.7 624.8,3044.9 624,3042.1 623.2,3039.3 622.5,3036.6 621.9,3033.8 648.8,3161.6 649.5,3164.7 650.3,3167.7 651.1,3170.8 652,3173.9 653,3177 654,3180.1 655.2,3183.2 656.4,3186.3 657.7,3189.4 659,3192.5 660.5,3195.6 662,3198.7 663.6,3201.8 665.3,3204.9 667,3208.1 668.9,3211.2 670.8,3214.3 672.8,3217.4 674.9,3220.5 677.1,3223.6 679.3,3226.7 681.6,3229.8 684.1,3232.9 686.6,3236 689.2,3239.1" fill="url(#g16)" stroke="#fff" stroke-width="3" stroke-linejoin="round"/>
<line x1="1375.6" y1="3263.3" x2="1368.8" y2="3412.1" stroke="#fff" stroke-width="9.7"/>
<line x1="661.9" y1="3104.2" x2="689.2" y2="3239.1" stroke="#fff" stroke-width="2.5"/>
<polygon points="1250.1,2930.4 1250.1,2755.2 1254.6,2755.2 1259.2,2755.2 1263.7,2755.2 1268.3,2755.3 1272.8,2755.3 1277.4,2755.4 1281.9,2755.5 1286.4,2755.6 1291,2755.7 1295.5,2755.8 1300.1,2756 1304.6,2756.1 1309.1,2756.3 1313.7,2756.5 1318.2,2756.7 1322.7,2756.9 1327.2,2757.1 1331.8,2757.3 1336.3,2757.6 1340.8,2757.8 1345.3,2758.1 1349.8,2758.4 1354.3,2758.7 1358.9,2759 1363.4,2759.4 1367.9,2759.7 1372.4,2760 1376.9,2760.4 1381.3,2760.8 1385.8,2761.2 1390.3,2761.6 1394.8,2762 1399.3,2762.5 1403.7,2762.9 1408.2,2763.4 1412.7,2763.9 1417.1,2764.3 1421.6,2764.9 1426,2765.4 1430.5,2765.9 1434.9,2766.4 1439.3,2767 1443.7,2767.6 1448.2,2768.2 1452.6,2768.8 1457,2769.4 1461.4,2770 1465.8,2770.7 1470.2,2771.3 1474.5,2772 1478.9,2772.7 1483.3,2773.4 1487.6,2774.1 1492,2774.8 1496.3,2775.6 1500.7,2776.3 1505,2777.1 1509.3,2777.9 1513.6,2778.7 1517.9,2779.5 1522.2,2780.3 1526.5,2781.1 1530.7,2782 1535,2782.9 1539.3,2783.8 1543.5,2784.7 1547.7,2785.6 1552,2786.5 1556.2,2787.4 1560.4,2788.4 1564.5,2789.4 1568.7,2790.4 1572.9,2791.4 1577,2792.4 1581.2,2793.4 1585.3,2794.4 1589.4,2795.5 1593.5,2796.6 1597.6,2797.7 1601.7,2798.8 1605.8,2799.9 1609.8,2801 1613.8,2802.2 1617.9,2803.3 1621.9,2804.5 1625.9,2805.7 1629.8,2806.9 1633.8,2808.2 1637.7,2809.4 1641.7,2810.7 1645.6,2811.9 1649.5,2813.2 1653.3,2814.5 1657.2,2815.8 1661,2817.2 1664.9,2818.5 1668.7,2819.9 1672.5,2821.3 1676.2,2822.6 1680,2824.1 1683.7,2825.5 1687.4,2826.9 1691.1,2828.4 1694.8,2829.9 1698.4,2831.3 1702,2832.8 1705.6,2834.4 1709.2,2835.9 1712.8,2837.4 1716.3,2839 1719.8,2840.6 1723.3,2842.2 1726.8,2843.8 1730.2,2845.4 1733.6,2847.1 1737,2848.7 1740.4,2850.4 1743.7,2852.1 1747,2853.8 1750.3,2855.6 1753.6,2857.3 1756.8,2859.1 1760,2860.8 1763.2,2862.6 1766.3,2864.4 1769.4,2866.2 1772.5,2868.1 1775.5,2869.9 1778.6,2871.8 1781.5,2873.7 1784.5,2875.6 1787.4,2877.5 1790.3,2879.4 1793.2,2881.4 1796,2883.3 1798.8,2885.3 1801.5,2887.3 1804.2,2889.3 1806.9,2891.4 1809.5,2893.4 1812.1,2895.5 1814.7,2897.5 1817.2,2899.6 1819.7,2901.7 1822.2,2903.9 1824.6,2906 1826.9,2908.1 1829.3,2910.3 1831.5,2912.5 1833.8,2914.7 1836,2916.9 1838.1,2919.1 1840.2,2921.4 1842.3,2923.6 1844.3,2925.9 1846.3,2928.2 1848.2,2930.5 1850.1,2932.8 1851.9,2935.2 1853.7,2937.5 1855.4,2939.9 1857.1,2942.2 1858.7,2944.6 1860.2,2947 1861.8,2949.4 1863.2,2951.9 1864.6,2954.3" fill="url(#g17)"/>
<polygon points="1250.1,2930.4 1864.6,2954.3 1866,2956.8 1867.3,2959.3 1868.6,2961.8 1869.8,2964.3 1870.9,2966.8 1872,2969.3 1873,2971.9 1873.9,2974.4 1874.8,2977 1875.7,2979.6 1876.4,2982.2 1877.2,2984.8 1877.8,2987.4 1878.4,2990 1878.9,2992.7 1879.4,2995.3 1879.7,2998 1880.1,3000.7 1880.3,3003.3 1880.5,3006 1880.6,3008.7 1880.7,3011.5 1880.6,3014.2 1880.5,3016.9 1880.4,3019.6 1880.1,3022.4 1879.8,3025.1 1879.4,3027.9 1879,3030.7 1878.4,3033.5 1877.8,3036.2 1877.1,3039 1876.3,3041.8 1875.5,3044.6 1874.6,3047.4 1873.5,3050.2 1872.5,3053.1 1871.3,3055.9 1870,3058.7 1868.7,3061.5 1867.3,3064.4 1865.8,3067.2 1864.2,3070 1862.5,3072.9 1860.8,3075.7 1859,3078.6 1857,3081.4 1855,3084.2 1852.9,3087.1 1850.7,3089.9 1848.5,3092.8 1846.1,3095.6 1843.7,3098.4 1841.1,3101.3 1838.5,3104.1 1835.8,3106.9 1832.9,3109.7 1830,3112.5 1827.1,3115.3 1824,3118.1 1820.8,3120.9 1817.5,3123.7 1814.2,3126.5 1810.7,3129.3 1807.2,3132 1803.5,3134.8 1799.8,3137.5 1796,3140.3 1792,3143 1788,3145.7 1783.9,3148.4 1779.7,3151.1 1775.4,3153.7 1771,3156.4 1766.5,3159 1762,3161.7 1757.3,3164.3 1752.5,3166.9 1747.7,3169.4 1742.7,3172 1737.7,3174.5 1732.6,3177 1727.3,3179.5 1722,3182 1716.6,3184.4 1711.1,3186.9 1705.5,3189.3 1699.9,3191.7 1694.1,3194 1688.2,3196.4 1682.3,3198.7 1676.3,3200.9 1670.1,3203.2 1663.9,3205.4 1657.7,3207.6 1651.3,3209.8 1644.8,3211.9 1638.3,3214 1631.7,3216.1 1625,3218.1 1618.2,3220.2 1611.3,3222.1 1604.4,3224.1 1597.4,3226 1590.3,3227.9 1583.1,3229.7 1575.9,3231.5 1568.6,3233.3 1561.2,3235 1553.8,3236.7 1546.3,3238.4 1538.7,3240 1531,3241.5 1523.3,3243.1 1515.6,3244.6 1507.7,3246 1499.9,3247.4 1491.9,3248.8 1483.9,3250.1 1475.9,3251.4 1467.7,3252.6 1459.6,3253.8 1451.4,3255 1443.1,3256.1 1434.8,3257.2 1426.5,3258.2 1418.1,3259.1 1409.7,3260.1 1401.2,3260.9 1392.7,3261.8 1384.2,3262.6 1375.6,3263.3" fill="url(#g18)"/>
<polygon points="1250.1,2930.4 1375.6,3263.3 1367,3264 1358.4,3264.6 1349.8,3265.2 1341.2,3265.7 1332.5,3266.2 1323.8,3266.7 1315.1,3267.1 1306.4,3267.4 1297.6,3267.7 1288.9,3267.9 1280.1,3268.1 1271.4,3268.3 1262.6,3268.4 1253.8,3268.4 1245.1,3268.4 1236.3,3268.4 1227.5,3268.3 1218.8,3268.1 1210,3267.9 1201.3,3267.6 1192.5,3267.3 1183.8,3267 1175.1,3266.6 1166.4,3266.1 1157.7,3265.7 1149.1,3265.1 1140.5,3264.5 1131.9,3263.9 1123.3,3263.2 1114.8,3262.4 1106.3,3261.7 1097.8,3260.8 1089.4,3259.9 1081,3259 1072.6,3258 1064.3,3257 1056,3256 1047.8,3254.9 1039.6,3253.7 1031.5,3252.5 1023.4,3251.3 1015.4,3250 1007.4,3248.7 999.5,3247.3 991.6,3245.9 983.8,3244.4 976.1,3242.9 968.4,3241.4 960.8,3239.8 953.2,3238.2 945.7,3236.5 938.3,3234.9 931,3233.1 923.7,3231.4 916.5,3229.6 909.3,3227.7 902.3,3225.8 895.3,3223.9 888.4,3222 881.5,3220 874.8,3218 868.1,3216 861.5,3213.9 855,3211.8 848.6,3209.7 842.2,3207.5 835.9,3205.3 829.8,3203.1 823.7,3200.8 817.7,3198.6 811.7,3196.3 805.9,3193.9 800.2,3191.6 794.5,3189.2 788.9,3186.8 783.4,3184.4 778.1,3181.9 772.8,3179.5 767.5,3177 762.4,3174.5 757.4,3172 752.5,3169.4 747.6,3166.8 742.9,3164.3 738.2,3161.7 733.7,3159 729.2,3156.4 724.8,3153.8 720.5,3151.1 716.3,3148.4 712.2,3145.7 708.2,3143 704.3,3140.3 700.5,3137.6 696.8,3134.9 693.1,3132.1 689.6,3129.4 686.1,3126.6 682.8,3123.8 679.5,3121 676.4,3118.3 673.3,3115.5 670.3,3112.7 667.4,3109.9 664.6,3107 661.9,3104.2" fill="url(#g19)"/>
<polygon points="1250.1,2930.4 661.9,3104.2 659.2,3101.4 656.7,3098.5 654.2,3095.7 651.8,3092.8 649.5,3090 647.3,3087.1 645.2,3084.3 643.2,3081.4 641.2,3078.6 639.4,3075.7 637.6,3072.8 636,3070 634.4,3067.1 632.9,3064.3 631.4,3061.4 630.1,3058.6 628.9,3055.8 627.7,3052.9 626.6,3050.1 625.6,3047.3 624.7,3044.4 623.8,3041.6 623,3038.8 622.3,3036 621.7,3033.2 621.2,3030.4 620.7,3027.6 620.4,3024.8 620,3022.1 619.8,3019.3 619.6,3016.6 619.6,3013.8 619.5,3011.1 619.6,3008.4 619.7,3005.6 619.9,3002.9 620.2,3000.2 620.5,2997.6 620.9,2994.9 621.4,2992.2 621.9,2989.6 622.5,2986.9 623.2,2984.3 623.9,2981.7 624.7,2979.1 625.5,2976.5 626.5,2973.9 627.4,2971.3 628.5,2968.8 629.6,2966.2 630.7,2963.7 631.9,2961.2 633.2,2958.7 634.5,2956.2 635.9,2953.7 637.4,2951.2 638.9,2948.8 640.4,2946.3 642,2943.9 643.7,2941.5 645.4,2939.1 647.1,2936.7 648.9,2934.4 650.8,2932 652.7,2929.7 654.6,2927.4 656.6,2925.1 658.7,2922.8 660.8,2920.5 662.9,2918.2 665.1,2916 667.4,2913.8 669.6,2911.6 672,2909.4 674.3,2907.2 676.7,2905 679.2,2902.9 681.7,2900.7 684.2,2898.6" fill="url(#g20)"/>
<polygon points="1250.1,2930.4 684.2,2898.6 686.8,2896.5 689.4,2894.4 692.1,2892.3 694.8,2890.2 697.6,2888.2 700.3,2886.1 703.2,2884.1 706,2882.1 708.9,2880.1 711.9,2878.1 714.8,2876.1 717.8,2874.2 720.9,2872.3 724,2870.4 727.1,2868.5 730.2,2866.6 733.4,2864.7 736.6,2862.9 739.8,2861.1 743,2859.2 746.3,2857.5 749.7,2855.7 753,2853.9 756.4,2852.2 759.8,2850.4 763.2,2848.7 766.7,2847 770.2,2845.4 773.7,2843.7 777.2,2842.1 780.8,2840.4 784.3,2838.8" fill="url(#g21)"/>
<polygon points="1250.1,2930.4 784.3,2838.8 787.9,2837.2 791.5,2835.7 795.2,2834.1 798.8,2832.6 802.5,2831 806.2,2829.5 809.9,2828 813.7,2826.6 817.5,2825.1 821.2,2823.7 825.1,2822.2 828.9,2820.8 832.7,2819.4 836.6,2818.1 840.5,2816.7 844.4,2815.4 848.3,2814 852.2,2812.7 856.2,2811.4 860.2,2810.1 864.2,2808.9 868.2,2807.6 872.2,2806.4 876.2,2805.2 880.3,2803.9 884.3,2802.8" fill="url(#g22)"/>
<polygon points="1250.1,2930.4 884.3,2802.8 888.5,2801.6 892.6,2800.4 896.8,2799.3 900.9,2798.1 905.1,2797 909.3,2795.9 913.5,2794.8 917.8,2793.7 922,2792.7 926.2,2791.6 930.5,2790.6 934.8,2789.6 939.1,2788.6 943.4,2787.6 947.7,2786.6 952,2785.7 956.3,2784.7 960.7,2783.8 965,2782.9" fill="url(#g23)"/>
<polygon points="1250.1,2930.4 965,2782.9 969.6,2782 974.1,2781.1 978.6,2780.2 983.2,2779.3 987.8,2778.4 992.4,2777.6 996.9,2776.8 1001.5,2776 1006.2,2775.2 1010.8,2774.4 1015.4,2773.6 1020,2772.9 1024.7,2772.1" fill="url(#g24)"/>
<polygon points="1250.1,2930.4 1024.7,2772.1 1029.1,2771.5 1033.5,2770.8 1037.9,2770.1 1042.3,2769.5 1046.7,2768.9 1051.2,2768.3 1055.6,2767.7 1060,2767.1 1064.5,2766.5 1068.9,2766" fill="url(#g25)"/>
<polygon points="1250.1,2930.4 1068.9,2766 1074,2765.4 1079,2764.8 1084,2764.2 1089.1,2763.7 1094.1,2763.2" fill="url(#g26)"/>
<polygon points="1250.1,2930.4 1094.1,2763.2 1098.6,2762.7 1103.2,2762.2 1107.7,2761.8 1112.3,2761.4 1116.8,2761 1121.4,2760.6 1126,2760.2 1130.5,2759.8 1135.1,2759.5 1139.7,2759.1 1144.2,2758.8 1148.8,2758.5 1153.4,2758.2 1158,2757.9 1162.6,2757.7 1167.2,2757.4 1171.8,2757.2 1176.4,2756.9 1181,2756.7 1185.6,2756.5 1190.2,2756.3 1194.8,2756.2 1199.4,2756 1204,2755.9 1208.6,2755.7 1213.2,2755.6 1217.8,2755.5 1222.4,2755.4 1227,2755.4 1231.6,2755.3 1236.3,2755.2 1240.9,2755.2 1245.5,2755.2 1250.1,2755.2" fill="url(#g27)"/>
<polygon points="1252.9,2930.4 1252.2,2755.2 1248,2755.2 1247.3,2930.4" fill="#fff"/>
<polygon points="1250,2933.2 1864.5,2957.2 1864.8,2951.4 1250.2,2927.6" fill="#fff"/>
<polygon points="1247.5,2931.4 1371.8,3264.7 1379.4,3261.8 1252.7,2929.4" fill="#fff"/>
<polygon points="1249.3,2927.7 660.9,3100.9 662.8,3107.6 1250.9,2933.1" fill="#fff"/>
<polygon points="1250.3,2927.6 684.3,2895.9 684,2901.3 1249.9,2933.2" fill="#fff"/>
<polygon points="1250.6,2927.7 784.8,2836.4 783.9,2841.2 1249.6,2933.1" fill="#fff"/>
<polygon points="1251,2927.8 885.1,2800.6 883.6,2804.9 1249.2,2933" fill="#fff"/>
<polygon points="1251.4,2927.9 966.1,2780.9 964,2784.9 1248.8,2932.9" fill="#fff"/>
<polygon points="1251.7,2928.1 1025.9,2770.3 1023.4,2773.9 1248.5,2932.7" fill="#fff"/>
<polygon points="1252,2928.3 1070.4,2764.4 1067.5,2767.6 1248.2,2932.5" fill="#fff"/>
<polygon points="1252.1,2928.5 1095.7,2761.7 1092.5,2764.6 1248.1,2932.3" fill="#fff"/>
<circle cx="1250.1" cy="2930.4" r="2.8" fill="#fff"/>
<path d="M1250.1 2754.7 L1254.1 2754.7 L1258 2754.7 L1262 2754.7 L1266 2754.8 L1269.9 2754.8 L1273.9 2754.9 L1277.8 2754.9 L1281.8 2755 L1285.8 2755.1 L1289.7 2755.2 L1293.7 2755.3 L1297.6 2755.4 L1301.6 2755.5 L1305.5 2755.7 L1309.5 2755.8 L1313.5 2756 L1317.4 2756.1 L1321.4 2756.3 L1325.3 2756.5 L1329.3 2756.7 L1333.2 2756.9 L1337.1 2757.1 L1341.1 2757.4 L1345 2757.6 L1349 2757.9 L1352.9 2758.1 L1356.8 2758.4 L1360.8 2758.7 L1364.7 2759 L1368.6 2759.3 L1372.5 2759.6 L1376.5 2759.9 L1380.4 2760.2 L1384.3 2760.6 L1388.2 2760.9 L1392.1 2761.3 L1396 2761.6 L1399.9 2762 L1403.8 2762.4 L1407.7 2762.8 L1411.6 2763.2 L1415.5 2763.7 L1419.4 2764.1 L1423.3 2764.5 L1427.1 2765 L1431 2765.5 L1434.9 2765.9 L1438.7 2766.4 L1442.6 2766.9 L1446.5 2767.4 L1450.3 2768 L1454.2 2768.5 L1458 2769 L1461.8 2769.6 L1465.7 2770.1 L1469.5 2770.7 L1473.3 2771.3 L1477.1 2771.9 L1480.9 2772.5 L1484.7 2773.1 L1488.5 2773.7 L1492.3 2774.4 L1496.1 2775 L1499.9 2775.7 L1503.7 2776.3 L1507.4 2777 L1511.2 2777.7 L1515 2778.4 L1518.7 2779.1 L1522.5 2779.8 L1526.2 2780.6 L1529.9 2781.3 L1533.6 2782.1 L1537.3 2782.8 L1541.1 2783.6 L1544.7 2784.4 L1548.4 2785.2 L1552.1 2786 L1555.8 2786.8 L1559.5 2787.7 L1563.1 2788.5 L1566.8 2789.4 L1570.4 2790.2 L1574 2791.1 L1577.6 2792 L1581.3 2792.9 L1584.9 2793.8 L1588.5 2794.7 L1592 2795.7 L1595.6 2796.6 L1599.2 2797.6 L1602.7 2798.5 L1606.3 2799.5 L1609.8 2800.5 L1613.3 2801.5 L1616.8 2802.5 L1620.3 2803.5 L1623.8 2804.6 L1627.3 2805.6 L1630.8 2806.7 L1634.2 2807.8 L1637.7 2808.8 L1641.1 2809.9 L1644.5 2811 L1647.9 2812.2 L1651.3 2813.3 L1654.7 2814.4 L1658 2815.6 L1661.4 2816.7 L1664.7 2817.9 L1668 2819.1 L1671.3 2820.3 L1674.6 2821.5 L1677.9 2822.7 L1681.2 2824 L1684.4 2825.2 L1687.7 2826.5 L1690.9 2827.8 L1694.1 2829 L1697.3 2830.3 L1700.5 2831.6 L1703.6 2833 L1706.7 2834.3 L1709.9 2835.6 L1713 2837 L1716.1 2838.4 L1719.1 2839.7 L1722.2 2841.1 L1725.2 2842.5 L1728.2 2843.9 L1731.2 2845.4 L1734.2 2846.8 L1737.1 2848.3 L1740.1 2849.7 L1743 2851.2 L1745.9 2852.7 L1748.8 2854.2 L1751.6 2855.7 L1754.5 2857.2 L1757.3 2858.7 L1760.1 2860.3 L1762.8 2861.9 L1765.6 2863.4 L1768.3 2865 L1771 2866.6 L1773.7 2868.2 L1776.4 2869.8 L1779 2871.5 L1781.6 2873.1 L1784.2 2874.8 L1786.7 2876.4 L1789.3 2878.1 L1791.8 2879.8 L1794.3 2881.5 L1796.7 2883.2 L1799.1 2885 L1801.5 2886.7 L1803.9 2888.5 L1806.3 2890.2 L1808.6 2892 L1810.9 2893.8 L1813.1 2895.6 L1815.4 2897.4 L1817.6 2899.3 L1819.7 2901.1 L1821.9 2902.9 L1824 2904.8 L1826.1 2906.7 L1828.1 2908.6 L1830.1 2910.5 L1832.1 2912.4 L1834.1 2914.3 L1836 2916.2 L1837.9 2918.2 L1839.7 2920.1 L1841.6 2922.1 L1843.3 2924.1 L1845.1 2926.1 L1846.8 2928.1 L1848.5 2930.1 L1850.1 2932.1 L1851.7 2934.1 L1853.3 2936.2 L1854.8 2938.2 L1856.3 2940.3 L1857.8 2942.4 L1859.2 2944.5 L1860.6 2946.6 L1861.9 2948.7 L1863.2 2950.8 L1864.4 2953 L1865.7 2955.1 L1866.8 2957.3 L1868 2959.4 L1869 2961.6 L1870.1 2963.8 L1871.1 2966 L1872 2968.2 L1872.9 2970.4 L1873.8 2972.6 L1874.6 2974.9 L1875.4 2977.1 L1876.1 2979.4 L1876.8 2981.6 L1877.4 2983.9 L1878 2986.2 L1878.6 2988.5 L1879.1 2990.8 L1879.5 2993.1 L1879.9 2995.4 L1880.2 2997.7 L1880.5 3000.1 L1880.7 3002.4 L1880.9 3004.7 L1881.1 3007.1 L1881.1 3009.5 L1881.2 3011.8 L1881.1 3014.2 L1881.1 3016.6 L1880.9 3019 L1880.7 3021.4 L1880.5 3023.8 L1880.2 3026.2 L1879.8 3028.6 L1879.4 3031 L1878.9 3033.4 L1876.7 3041.6 L1876.1 3044.1 L1875.4 3046.5 L1874.7 3049 L1874 3051.4 L1873.1 3053.9 L1872.2 3056.3 L1871.3 3058.8 L1870.3 3061.2 L1869.2 3063.7 L1868.1 3066.2 L1866.9 3068.6 L1865.7 3071.1 L1864.3 3073.6 L1863 3076.1 L1861.5 3078.5 L1860 3081 L1858.4 3083.5 L1856.8 3086 L1855.1 3088.5 L1853.3 3090.9 L1851.5 3093.4 L1849.6 3095.9 L1847.6 3098.4 L1845.6 3100.9 L1843.5 3103.3 L1841.3 3105.8 L1839.1 3108.3 L1836.8 3110.7 L1834.4 3113.2 L1832 3115.7 L1829.5 3118.1 L1826.9 3120.6 L1824.3 3123 L1821.6 3125.5 L1818.8 3127.9 L1815.9 3130.3 L1813 3132.7 L1810 3135.2 L1807 3137.6 L1803.8 3140 L1800.6 3142.4 L1797.3 3144.8 L1794 3147.2 L1790.6 3149.5 L1787.1 3151.9 L1783.6 3154.2 L1779.9 3156.6 L1776.2 3158.9 L1772.5 3161.2 L1768.6 3163.6 L1764.7 3165.9 L1760.8 3168.1 L1756.7 3170.4 L1752.6 3172.7 L1748.4 3174.9 L1744.2 3177.2 L1739.8 3179.4 L1735.4 3181.6 L1731 3183.8 L1726.4 3186 L1721.8 3188.1 L1717.2 3190.3 L1712.4 3192.4 L1707.6 3194.5 L1702.8 3196.6 L1697.8 3198.7 L1692.8 3200.7 L1687.7 3202.7 L1682.6 3204.8 L1677.4 3206.7 L1672.1 3208.7 L1666.8 3210.7 L1661.4 3212.6 L1655.9 3214.5 L1650.4 3216.4 L1644.8 3218.3 L1639.1 3220.1 L1633.4 3221.9 L1627.6 3223.7 L1621.8 3225.5 L1615.9 3227.3 L1610 3229 L1603.9 3230.7 L1597.9 3232.3 L1591.7 3234 L1585.6 3235.6 L1579.3 3237.2 L1573 3238.8 L1566.7 3240.3 L1560.3 3241.8 L1553.8 3243.3 L1547.3 3244.7 L1540.8 3246.1 L1534.2 3247.5 L1527.5 3248.9 L1520.8 3250.2 L1514.1 3251.5 L1507.3 3252.8 L1500.5 3254 L1493.6 3255.2 L1486.7 3256.4 L1479.7 3257.5 L1472.7 3258.6 L1465.7 3259.7 L1458.6 3260.7 L1451.5 3261.7 L1444.3 3262.7 L1437.1 3263.6 L1429.9 3264.5 L1422.7 3265.4 L1415.4 3266.2 L1408.1 3267 L1400.7 3267.8 L1393.4 3268.5 L1386 3269.2 L1378.6 3269.9 L1371.1 3270.5 L1363.7 3271 L1356.2 3271.6 L1348.7 3272.1 L1341.2 3272.6 L1333.7 3273 L1326.1 3273.4 L1318.5 3273.8 L1311 3274.1 L1303.4 3274.4 L1295.8 3274.6 L1288.2 3274.8 L1280.6 3275 L1273 3275.1 L1265.3 3275.2 L1257.7 3275.3 L1250.1 3275.3 L1242.5 3275.3 L1234.9 3275.2 L1227.2 3275.1 L1219.6 3275 L1212 3274.8 L1204.4 3274.6 L1196.8 3274.4 L1189.2 3274.1 L1181.7 3273.8 L1174.1 3273.4 L1166.5 3273 L1159 3272.6 L1151.5 3272.1 L1144 3271.6 L1136.5 3271 L1129.1 3270.5 L1121.6 3269.9 L1114.2 3269.2 L1106.8 3268.5 L1099.5 3267.8 L1092.1 3267 L1084.8 3266.2 L1077.5 3265.4 L1070.3 3264.5 L1063.1 3263.6 L1055.9 3262.7 L1048.7 3261.7 L1041.6 3260.7 L1034.5 3259.7 L1027.5 3258.6 L1020.5 3257.5 L1013.5 3256.4 L1006.6 3255.2 L999.7 3254 L992.9 3252.8 L986.1 3251.5 L979.4 3250.2 L972.7 3248.9 L966 3247.5 L959.4 3246.1 L952.9 3244.7 L946.4 3243.3 L939.9 3241.8 L933.5 3240.3 L927.2 3238.8 L920.9 3237.2 L914.6 3235.6 L908.5 3234 L902.3 3232.3 L896.3 3230.7 L890.2 3229 L884.3 3227.3 L878.4 3225.5 L872.6 3223.7 L866.8 3221.9 L861.1 3220.1 L855.4 3218.3 L849.8 3216.4 L844.3 3214.5 L838.8 3212.6 L833.4 3210.7 L828.1 3208.7 L822.8 3206.7 L817.6 3204.8 L812.5 3202.7 L807.4 3200.7 L802.4 3198.7 L797.4 3196.6 L792.6 3194.5 L787.8 3192.4 L783 3190.3 L778.4 3188.1 L773.8 3186 L769.2 3183.8 L764.8 3181.6 L760.4 3179.4 L756 3177.2 L751.8 3174.9 L747.6 3172.7 L743.5 3170.4 L739.4 3168.1 L735.5 3165.9 L731.6 3163.6 L727.7 3161.2 L724 3158.9 L720.3 3156.6 L716.6 3154.2 L713.1 3151.9 L709.6 3149.5 L706.2 3147.2 L702.9 3144.8 L699.6 3142.4 L696.4 3140 L693.2 3137.6 L690.2 3135.2 L687.2 3132.7 L684.3 3130.3 L681.4 3127.9 L678.6 3125.5 L675.9 3123 L673.3 3120.6 L670.7 3118.1 L668.2 3115.7 L665.8 3113.2 L663.4 3110.7 L661.1 3108.3 L658.9 3105.8 L656.7 3103.3 L654.6 3100.9 L652.6 3098.4 L650.6 3095.9 L648.7 3093.4 L646.9 3090.9 L645.1 3088.5 L643.4 3086 L641.8 3083.5 L640.2 3081 L638.7 3078.5 L637.2 3076.1 L635.9 3073.6 L634.5 3071.1 L633.3 3068.6 L632.1 3066.2 L631 3063.7 L629.9 3061.2 L628.9 3058.8 L628 3056.3 L627.1 3053.9 L626.2 3051.4 L625.5 3049 L624.8 3046.5 L624.1 3044.1 L623.5 3041.6 L621.3 3033.4 L620.8 3031 L620.4 3028.6 L620 3026.2 L619.7 3023.8 L619.5 3021.4 L619.3 3019 L619.1 3016.6 L619.1 3014.2 L619 3011.8 L619.1 3009.5 L619.1 3007.1 L619.3 3004.7 L619.5 3002.4 L619.7 3000.1 L620 2997.7 L620.3 2995.4 L620.7 2993.1 L621.1 2990.8 L621.6 2988.5 L622.2 2986.2 L622.8 2983.9 L623.4 2981.6 L624.1 2979.4 L624.8 2977.1 L625.6 2974.9 L626.4 2972.6 L627.3 2970.4 L628.2 2968.2 L629.1 2966 L630.1 2963.8 L631.2 2961.6 L632.2 2959.4 L633.4 2957.3 L634.5 2955.1 L635.8 2953 L637 2950.8 L638.3 2948.7 L639.6 2946.6 L641 2944.5 L642.4 2942.4 L643.9 2940.3 L645.4 2938.2 L646.9 2936.2 L648.5 2934.1 L650.1 2932.1 L651.7 2930.1 L653.4 2928.1 L655.1 2926.1 L656.9 2924.1 L658.6 2922.1 L660.5 2920.1 L662.3 2918.2 L664.2 2916.2 L666.1 2914.3 L668.1 2912.4 L670.1 2910.5 L672.1 2908.6 L674.1 2906.7 L676.2 2904.8 L678.3 2902.9 L680.5 2901.1 L682.6 2899.3 L684.8 2897.4 L687.1 2895.6 L689.3 2893.8 L691.6 2892 L693.9 2890.2 L696.3 2888.5 L698.7 2886.7 L701.1 2885 L703.5 2883.2 L705.9 2881.5 L708.4 2879.8 L710.9 2878.1 L713.5 2876.4 L716 2874.8 L718.6 2873.1 L721.2 2871.5 L723.8 2869.8 L726.5 2868.2 L729.2 2866.6 L731.9 2865 L734.6 2863.4 L737.4 2861.9 L740.1 2860.3 L742.9 2858.7 L745.7 2857.2 L748.6 2855.7 L751.4 2854.2 L754.3 2852.7 L757.2 2851.2 L760.1 2849.7 L763.1 2848.3 L766 2846.8 L769 2845.4 L772 2843.9 L775 2842.5 L778 2841.1 L781.1 2839.7 L784.1 2838.4 L787.2 2837 L790.3 2835.6 L793.5 2834.3 L796.6 2833 L799.7 2831.6 L802.9 2830.3 L806.1 2829 L809.3 2827.8 L812.5 2826.5 L815.8 2825.2 L819 2824 L822.3 2822.7 L825.6 2821.5 L828.9 2820.3 L832.2 2819.1 L835.5 2817.9 L838.8 2816.7 L842.2 2815.6 L845.5 2814.4 L848.9 2813.3 L852.3 2812.2 L855.7 2811 L859.1 2809.9 L862.5 2808.8 L866 2807.8 L869.4 2806.7 L872.9 2805.6 L876.4 2804.6 L879.9 2803.5 L883.4 2802.5 L886.9 2801.5 L890.4 2800.5 L893.9 2799.5 L897.5 2798.5 L901 2797.6 L904.6 2796.6 L908.2 2795.7 L911.7 2794.7 L915.3 2793.8 L918.9 2792.9 L922.6 2792 L926.2 2791.1 L929.8 2790.2 L933.4 2789.4 L937.1 2788.5 L940.7 2787.7 L944.4 2786.8 L948.1 2786 L951.8 2785.2 L955.5 2784.4 L959.1 2783.6 L962.9 2782.8 L966.6 2782.1 L970.3 2781.3 L974 2780.6 L977.7 2779.8 L981.5 2779.1 L985.2 2778.4 L989 2777.7 L992.8 2777 L996.5 2776.3 L1000.3 2775.7 L1004.1 2775 L1007.9 2774.4 L1011.7 2773.7 L1015.5 2773.1 L1019.3 2772.5 L1023.1 2771.9 L1026.9 2771.3 L1030.7 2770.7 L1034.5 2770.1 L1038.4 2769.6 L1042.2 2769 L1046 2768.5 L1049.9 2768 L1053.7 2767.4 L1057.6 2766.9 L1061.5 2766.4 L1065.3 2765.9 L1069.2 2765.5 L1073.1 2765 L1076.9 2764.5 L1080.8 2764.1 L1084.7 2763.7 L1088.6 2763.2 L1092.5 2762.8 L1096.4 2762.4 L1100.3 2762 L1104.2 2761.6 L1108.1 2761.3 L1112 2760.9 L1115.9 2760.6 L1119.8 2760.2 L1123.7 2759.9 L1127.7 2759.6 L1131.6 2759.3 L1135.5 2759 L1139.4 2758.7 L1143.4 2758.4 L1147.3 2758.1 L1151.2 2757.9 L1155.2 2757.6 L1159.1 2757.4 L1163.1 2757.1 L1167 2756.9 L1170.9 2756.7 L1174.9 2756.5 L1178.8 2756.3 L1182.8 2756.1 L1186.7 2756 L1190.7 2755.8 L1194.7 2755.7 L1198.6 2755.5 L1202.6 2755.4 L1206.5 2755.3 L1210.5 2755.2 L1214.4 2755.1 L1218.4 2755 L1222.4 2754.9 L1226.3 2754.9 L1230.3 2754.8 L1234.2 2754.8 L1238.2 2754.7 L1242.2 2754.7 L1246.1 2754.7 Z M1250.1 2757.8 L1254.1 2757.8 L1258 2757.8 L1262 2757.8 L1265.9 2757.8 L1269.9 2757.9 L1273.8 2757.9 L1277.8 2758 L1281.7 2758.1 L1285.7 2758.2 L1289.6 2758.3 L1293.6 2758.4 L1297.5 2758.5 L1301.5 2758.6 L1305.4 2758.8 L1309.4 2758.9 L1313.3 2759.1 L1317.3 2759.2 L1321.2 2759.4 L1325.2 2759.6 L1329.1 2759.8 L1333 2760 L1337 2760.2 L1340.9 2760.5 L1344.8 2760.7 L1348.8 2760.9 L1352.7 2761.2 L1356.6 2761.5 L1360.5 2761.8 L1364.5 2762 L1368.4 2762.3 L1372.3 2762.7 L1376.2 2763 L1380.1 2763.3 L1384 2763.7 L1387.9 2764 L1391.8 2764.4 L1395.7 2764.7 L1399.6 2765.1 L1403.5 2765.5 L1407.4 2765.9 L1411.3 2766.3 L1415.2 2766.8 L1419 2767.2 L1422.9 2767.6 L1426.8 2768.1 L1430.6 2768.6 L1434.5 2769.1 L1438.3 2769.5 L1442.2 2770 L1446 2770.5 L1449.9 2771.1 L1453.7 2771.6 L1457.6 2772.1 L1461.4 2772.7 L1465.2 2773.3 L1469 2773.8 L1472.8 2774.4 L1476.6 2775 L1480.4 2775.6 L1484.2 2776.2 L1488 2776.9 L1491.8 2777.5 L1495.6 2778.1 L1499.4 2778.8 L1503.1 2779.5 L1506.9 2780.2 L1510.6 2780.8 L1514.4 2781.5 L1518.1 2782.3 L1521.8 2783 L1525.6 2783.7 L1529.3 2784.5 L1533 2785.2 L1536.7 2786 L1540.4 2786.8 L1544.1 2787.6 L1547.7 2788.4 L1551.4 2789.2 L1555.1 2790 L1558.7 2790.8 L1562.4 2791.7 L1566 2792.5 L1569.6 2793.4 L1573.3 2794.3 L1576.9 2795.2 L1580.5 2796.1 L1584.1 2797 L1587.6 2797.9 L1591.2 2798.8 L1594.8 2799.8 L1598.3 2800.7 L1601.9 2801.7 L1605.4 2802.7 L1608.9 2803.7 L1612.4 2804.7 L1615.9 2805.7 L1619.4 2806.7 L1622.9 2807.8 L1626.3 2808.8 L1629.8 2809.9 L1633.2 2810.9 L1636.6 2812 L1640.1 2813.1 L1643.5 2814.2 L1646.8 2815.3 L1650.2 2816.5 L1653.6 2817.6 L1656.9 2818.8 L1660.3 2819.9 L1663.6 2821.1 L1666.9 2822.3 L1670.2 2823.5 L1673.5 2824.7 L1676.7 2825.9 L1680 2827.2 L1683.2 2828.4 L1686.4 2829.7 L1689.6 2830.9 L1692.8 2832.2 L1696 2833.5 L1699.1 2834.8 L1702.3 2836.1 L1705.4 2837.5 L1708.5 2838.8 L1711.6 2840.2 L1714.6 2841.5 L1717.7 2842.9 L1720.7 2844.3 L1723.7 2845.7 L1726.7 2847.1 L1729.7 2848.5 L1732.7 2850 L1735.6 2851.4 L1738.5 2852.9 L1741.4 2854.3 L1744.3 2855.8 L1747.1 2857.3 L1750 2858.8 L1752.8 2860.3 L1755.6 2861.9 L1758.3 2863.4 L1761.1 2865 L1763.8 2866.5 L1766.5 2868.1 L1769.2 2869.7 L1771.8 2871.3 L1774.5 2872.9 L1777.1 2874.5 L1779.6 2876.2 L1782.2 2877.8 L1784.7 2879.5 L1787.2 2881.2 L1789.7 2882.9 L1792.2 2884.5 L1794.6 2886.3 L1797 2888 L1799.4 2889.7 L1801.7 2891.4 L1804 2893.2 L1806.3 2895 L1808.6 2896.7 L1810.8 2898.5 L1813 2900.3 L1815.2 2902.1 L1817.3 2904 L1819.4 2905.8 L1821.5 2907.6 L1823.5 2909.5 L1825.5 2911.3 L1827.5 2913.2 L1829.5 2915.1 L1831.4 2917 L1833.3 2918.9 L1835.1 2920.8 L1836.9 2922.8 L1838.7 2924.7 L1840.5 2926.6 L1842.2 2928.6 L1843.8 2930.6 L1845.5 2932.6 L1847.1 2934.5 L1848.6 2936.5 L1850.2 2938.6 L1851.7 2940.6 L1853.1 2942.6 L1854.5 2944.6 L1855.9 2946.7 L1857.2 2948.7 L1858.5 2950.8 L1859.8 2952.9 L1861 2955 L1862.1 2957.1 L1863.3 2959.2 L1864.4 2961.3 L1865.4 2963.4 L1866.4 2965.5 L1867.4 2967.6 L1868.3 2969.8 L1869.2 2971.9 L1870 2974.1 L1870.8 2976.2 L1871.5 2978.4 L1872.2 2980.6 L1872.8 2982.8 L1873.4 2985 L1874 2987.2 L1874.5 2989.4 L1875 2991.6 L1875.4 2993.8 L1875.7 2996.1 L1876 2998.3 L1876.3 3000.5 L1876.5 3002.8 L1876.7 3005 L1876.8 3007.3 L1876.9 3009.6 L1876.9 3011.8 L1876.8 3014.1 L1876.8 3016.4 L1876.6 3018.7 L1876.4 3021 L1876.2 3023.3 L1875.9 3025.6 L1875.5 3027.9 L1875.1 3030.2 L1874.6 3032.6 L1874.1 3034.9 L1873.5 3037.2 L1872.9 3039.6 L1872.2 3041.9 L1871.5 3044.3 L1870.7 3046.6 L1869.8 3049 L1868.9 3051.3 L1867.9 3053.7 L1866.8 3056.1 L1865.7 3058.5 L1864.6 3060.8 L1863.3 3063.2 L1862.1 3065.6 L1860.7 3068 L1859.3 3070.4 L1857.8 3072.8 L1856.3 3075.2 L1854.7 3077.6 L1853 3080 L1851.3 3082.4 L1849.5 3084.8 L1847.6 3087.2 L1845.7 3089.6 L1843.7 3092 L1841.6 3094.4 L1839.5 3096.8 L1837.3 3099.2 L1835 3101.6 L1832.7 3104 L1830.3 3106.4 L1827.8 3108.8 L1825.3 3111.2 L1822.6 3113.6 L1820 3116 L1817.2 3118.4 L1814.4 3120.7 L1811.5 3123.1 L1808.6 3125.5 L1805.5 3127.8 L1802.4 3130.2 L1799.3 3132.5 L1796 3134.9 L1792.7 3137.2 L1789.3 3139.5 L1785.9 3141.8 L1782.3 3144.1 L1778.8 3146.4 L1775.1 3148.7 L1771.3 3151 L1767.5 3153.3 L1763.7 3155.5 L1759.7 3157.8 L1755.7 3160 L1751.6 3162.2 L1747.4 3164.5 L1743.2 3166.7 L1738.9 3168.8 L1734.5 3171 L1730.1 3173.2 L1725.6 3175.3 L1721 3177.4 L1716.4 3179.5 L1711.7 3181.6 L1706.9 3183.7 L1702 3185.8 L1697.1 3187.8 L1692.1 3189.8 L1687.1 3191.8 L1681.9 3193.8 L1676.7 3195.8 L1671.5 3197.7 L1666.2 3199.7 L1660.8 3201.6 L1655.3 3203.4 L1649.8 3205.3 L1644.3 3207.1 L1638.6 3209 L1632.9 3210.8 L1627.2 3212.5 L1621.3 3214.3 L1615.5 3216 L1609.5 3217.7 L1603.5 3219.4 L1597.5 3221 L1591.3 3222.6 L1585.2 3224.2 L1579 3225.8 L1572.7 3227.4 L1566.3 3228.9 L1559.9 3230.4 L1553.5 3231.8 L1547 3233.2 L1540.5 3234.6 L1533.9 3236 L1527.2 3237.4 L1520.6 3238.7 L1513.8 3239.9 L1507 3241.2 L1500.2 3242.4 L1493.4 3243.6 L1486.4 3244.8 L1479.5 3245.9 L1472.5 3247 L1465.5 3248 L1458.4 3249.1 L1451.3 3250 L1444.2 3251 L1437 3251.9 L1429.8 3252.8 L1422.5 3253.7 L1415.3 3254.5 L1408 3255.3 L1400.6 3256 L1393.3 3256.7 L1385.9 3257.4 L1378.5 3258.1 L1371 3258.7 L1363.6 3259.3 L1356.1 3259.8 L1348.6 3260.3 L1341.1 3260.8 L1333.6 3261.2 L1326.1 3261.6 L1318.5 3261.9 L1310.9 3262.2 L1303.3 3262.5 L1295.8 3262.8 L1288.2 3263 L1280.6 3263.1 L1272.9 3263.3 L1265.3 3263.4 L1257.7 3263.4 L1250.1 3263.4 L1242.5 3263.4 L1234.9 3263.4 L1227.3 3263.3 L1219.6 3263.1 L1212 3263 L1204.4 3262.8 L1196.9 3262.5 L1189.3 3262.2 L1181.7 3261.9 L1174.1 3261.6 L1166.6 3261.2 L1159.1 3260.8 L1151.6 3260.3 L1144.1 3259.8 L1136.6 3259.3 L1129.2 3258.7 L1121.7 3258.1 L1114.3 3257.4 L1106.9 3256.7 L1099.6 3256 L1092.2 3255.3 L1084.9 3254.5 L1077.7 3253.7 L1070.4 3252.8 L1063.2 3251.9 L1056 3251 L1048.9 3250 L1041.8 3249.1 L1034.7 3248 L1027.7 3247 L1020.7 3245.9 L1013.8 3244.8 L1006.8 3243.6 L1000 3242.4 L993.2 3241.2 L986.4 3239.9 L979.6 3238.7 L973 3237.4 L966.3 3236 L959.7 3234.6 L953.2 3233.2 L946.7 3231.8 L940.3 3230.4 L933.9 3228.9 L927.5 3227.4 L921.2 3225.8 L915 3224.2 L908.9 3222.6 L902.7 3221 L896.7 3219.4 L890.7 3217.7 L884.7 3216 L878.9 3214.3 L873 3212.5 L867.3 3210.8 L861.6 3209 L855.9 3207.1 L850.4 3205.3 L844.9 3203.4 L839.4 3201.6 L834 3199.7 L828.7 3197.7 L823.5 3195.8 L818.3 3193.8 L813.1 3191.8 L808.1 3189.8 L803.1 3187.8 L798.2 3185.8 L793.3 3183.7 L788.5 3181.6 L783.8 3179.5 L779.2 3177.4 L774.6 3175.3 L770.1 3173.2 L765.7 3171 L761.3 3168.8 L757 3166.7 L752.8 3164.5 L748.6 3162.2 L744.5 3160 L740.5 3157.8 L736.5 3155.5 L732.7 3153.3 L728.9 3151 L725.1 3148.7 L721.4 3146.4 L717.9 3144.1 L714.3 3141.8 L710.9 3139.5 L707.5 3137.2 L704.2 3134.9 L700.9 3132.5 L697.8 3130.2 L694.7 3127.8 L691.6 3125.5 L688.7 3123.1 L685.8 3120.7 L683 3118.4 L680.2 3116 L677.6 3113.6 L674.9 3111.2 L672.4 3108.8 L669.9 3106.4 L667.5 3104 L665.2 3101.6 L662.9 3099.2 L660.7 3096.8 L658.6 3094.4 L656.5 3092 L654.5 3089.6 L652.6 3087.2 L650.7 3084.8 L648.9 3082.4 L647.2 3080 L645.5 3077.6 L643.9 3075.2 L642.4 3072.8 L640.9 3070.4 L639.5 3068 L638.1 3065.6 L636.9 3063.2 L635.6 3060.8 L634.5 3058.5 L633.4 3056.1 L632.3 3053.7 L631.3 3051.3 L630.4 3049 L629.5 3046.6 L628.7 3044.3 L628 3041.9 L627.3 3039.6 L626.7 3037.2 L626.1 3034.9 L625.6 3032.6 L625.1 3030.2 L624.7 3027.9 L624.3 3025.6 L624 3023.3 L623.8 3021 L623.6 3018.7 L623.4 3016.4 L623.4 3014.1 L623.3 3011.8 L623.3 3009.6 L623.4 3007.3 L623.5 3005 L623.7 3002.8 L623.9 3000.5 L624.2 2998.3 L624.5 2996.1 L624.8 2993.8 L625.2 2991.6 L625.7 2989.4 L626.2 2987.2 L626.8 2985 L627.4 2982.8 L628 2980.6 L628.7 2978.4 L629.4 2976.2 L630.2 2974.1 L631 2971.9 L631.9 2969.8 L632.8 2967.6 L633.8 2965.5 L634.8 2963.4 L635.8 2961.3 L636.9 2959.2 L638.1 2957.1 L639.2 2955 L640.4 2952.9 L641.7 2950.8 L643 2948.7 L644.3 2946.7 L645.7 2944.6 L647.1 2942.6 L648.5 2940.6 L650 2938.6 L651.6 2936.5 L653.1 2934.5 L654.7 2932.6 L656.4 2930.6 L658 2928.6 L659.7 2926.6 L661.5 2924.7 L663.3 2922.8 L665.1 2920.8 L666.9 2918.9 L668.8 2917 L670.7 2915.1 L672.7 2913.2 L674.7 2911.3 L676.7 2909.5 L678.7 2907.6 L680.8 2905.8 L682.9 2904 L685 2902.1 L687.2 2900.3 L689.4 2898.5 L691.6 2896.7 L693.9 2895 L696.2 2893.2 L698.5 2891.4 L700.8 2889.7 L703.2 2888 L705.6 2886.3 L708 2884.5 L710.5 2882.9 L713 2881.2 L715.5 2879.5 L718 2877.8 L720.6 2876.2 L723.1 2874.5 L725.7 2872.9 L728.4 2871.3 L731 2869.7 L733.7 2868.1 L736.4 2866.5 L739.1 2865 L741.9 2863.4 L744.6 2861.9 L747.4 2860.3 L750.2 2858.8 L753.1 2857.3 L755.9 2855.8 L758.8 2854.3 L761.7 2852.9 L764.6 2851.4 L767.5 2850 L770.5 2848.5 L773.5 2847.1 L776.5 2845.7 L779.5 2844.3 L782.5 2842.9 L785.6 2841.5 L788.6 2840.2 L791.7 2838.8 L794.8 2837.5 L797.9 2836.1 L801.1 2834.8 L804.2 2833.5 L807.4 2832.2 L810.6 2830.9 L813.8 2829.7 L817 2828.4 L820.2 2827.2 L823.5 2825.9 L826.7 2824.7 L830 2823.5 L833.3 2822.3 L836.6 2821.1 L839.9 2819.9 L843.3 2818.8 L846.6 2817.6 L850 2816.5 L853.4 2815.3 L856.7 2814.2 L860.1 2813.1 L863.6 2812 L867 2810.9 L870.4 2809.9 L873.9 2808.8 L877.3 2807.8 L880.8 2806.7 L884.3 2805.7 L887.8 2804.7 L891.3 2803.7 L894.8 2802.7 L898.3 2801.7 L901.9 2800.7 L905.4 2799.8 L909 2798.8 L912.6 2797.9 L916.1 2797 L919.7 2796.1 L923.3 2795.2 L926.9 2794.3 L930.6 2793.4 L934.2 2792.5 L937.8 2791.7 L941.5 2790.8 L945.1 2790 L948.8 2789.2 L952.5 2788.4 L956.1 2787.6 L959.8 2786.8 L963.5 2786 L967.2 2785.2 L970.9 2784.5 L974.6 2783.7 L978.4 2783 L982.1 2782.3 L985.8 2781.5 L989.6 2780.8 L993.3 2780.2 L997.1 2779.5 L1000.8 2778.8 L1004.6 2778.1 L1008.4 2777.5 L1012.2 2776.9 L1016 2776.2 L1019.8 2775.6 L1023.6 2775 L1027.4 2774.4 L1031.2 2773.8 L1035 2773.3 L1038.8 2772.7 L1042.6 2772.1 L1046.5 2771.6 L1050.3 2771.1 L1054.2 2770.5 L1058 2770 L1061.9 2769.5 L1065.7 2769.1 L1069.6 2768.6 L1073.4 2768.1 L1077.3 2767.6 L1081.2 2767.2 L1085 2766.8 L1088.9 2766.3 L1092.8 2765.9 L1096.7 2765.5 L1100.6 2765.1 L1104.5 2764.7 L1108.4 2764.4 L1112.3 2764 L1116.2 2763.7 L1120.1 2763.3 L1124 2763 L1127.9 2762.7 L1131.8 2762.3 L1135.7 2762 L1139.7 2761.8 L1143.6 2761.5 L1147.5 2761.2 L1151.4 2760.9 L1155.4 2760.7 L1159.3 2760.5 L1163.2 2760.2 L1167.2 2760 L1171.1 2759.8 L1175 2759.6 L1179 2759.4 L1182.9 2759.2 L1186.9 2759.1 L1190.8 2758.9 L1194.8 2758.8 L1198.7 2758.6 L1202.7 2758.5 L1206.6 2758.4 L1210.6 2758.3 L1214.5 2758.2 L1218.5 2758.1 L1222.4 2758 L1226.4 2757.9 L1230.3 2757.9 L1234.3 2757.8 L1238.2 2757.8 L1242.2 2757.8 L1246.1 2757.8 Z" fill="#fff" fill-rule="evenodd"/>
<text x="1231" y="2534" font-family='"Liberation Serif","Noto Serif CJK SC",serif' font-size="46.5" font-weight="500" fill="#000" text-anchor="middle" textLength="1166">2025年1—6月中国以数量为准出口纺织面鞋前十省市占比</text>
<polyline points="1056,2649 1073.5,2649 1080.7,2767" fill="none" stroke="#A6A6A6" stroke-width="3"/>
<polyline points="1028,2695 1033,2695 1047.5,2771.5" fill="none" stroke="#A6A6A6" stroke-width="3"/>
<polyline points="961,2732 981,2732 994.8,2778" fill="none" stroke="#A6A6A6" stroke-width="3"/>
<polyline points="907,2773 911,2773 923.8,2794.8" fill="none" stroke="#A6A6A6" stroke-width="3"/>
<polyline points="802,2806 821,2806 833.5,2822.5" fill="none" stroke="#A6A6A6" stroke-width="3"/>
<text x="846" y="2650" font-size="37" font-weight="bold" fill="#000" text-anchor="start" ><tspan font-family='"Noto Serif CJK SC",serif' letter-spacing="1.5">四川省</tspan><tspan font-family='"DejaVu Sans","Liberation Sans",sans-serif' font-size="29.5" dx="8">0.9%</tspan></text>
<text x="819.6" y="2695" font-size="37" font-weight="bold" fill="#000" text-anchor="start" ><tspan font-family='"Noto Serif CJK SC",serif' letter-spacing="1.5">湖北省</tspan><tspan font-family='"DejaVu Sans","Liberation Sans",sans-serif' font-size="29.5" dx="8">1.6%</tspan></text>
<text x="753" y="2737" font-size="37" font-weight="bold" fill="#000" text-anchor="start" ><tspan font-family='"Noto Serif CJK SC",serif' letter-spacing="1.5">安徽省</tspan><tspan font-family='"DejaVu Sans","Liberation Sans",sans-serif' font-size="29.5" dx="8">2.2%</tspan></text>
<text x="705" y="2775" font-size="37" font-weight="bold" fill="#000" text-anchor="start" ><tspan font-family='"Noto Serif CJK SC",serif' letter-spacing="1.5">上海市</tspan><tspan font-family='"DejaVu Sans","Liberation Sans",sans-serif' font-size="29.5" dx="8">3.1%</tspan></text>
<text x="631.7" y="2808" font-size="37" font-weight="bold" fill="#000" text-anchor="start" ><tspan font-family='"Noto Serif CJK SC",serif' letter-spacing="1.5">新疆</tspan><tspan font-family='"DejaVu Sans","Liberation Sans",sans-serif' font-size="29.5" dx="8">4.2%</tspan></text>
<text x="1129" y="2806" font-size="31.5" font-weight="bold" fill="#000" text-anchor="start" ><tspan font-family='"Noto Serif CJK SC",serif' letter-spacing="1.5">其他地区</tspan><tspan font-family='"DejaVu Sans","Liberation Sans",sans-serif' font-size="29.5" dx="8"></tspan></text>
<text x="1191.6" y="2845" font-family='"DejaVu Sans","Liberation Sans",sans-serif' font-size="27" font-weight="bold" fill="#000" text-anchor="middle" >5.5%</text>
<text x="751" y="2899" font-size="37" font-weight="bold" fill="#fff" text-anchor="start" ><tspan font-family='"Noto Serif CJK SC",serif' letter-spacing="1.5">山东省</tspan><tspan font-family='"DejaVu Sans","Liberation Sans",sans-serif' font-size="29.5" dx="8">5.2%</tspan></text>
<text x="680" y="2994" font-size="37" font-weight="bold" fill="#fff" text-anchor="start" ><tspan font-family='"Noto Serif CJK SC",serif' letter-spacing="1.5">广东省</tspan><tspan font-family='"DejaVu Sans","Liberation Sans",sans-serif' font-size="29.5" dx="8">12.7%</tspan></text>
<text x="993" y="3157" font-size="37" font-weight="bold" fill="#fff" text-anchor="start" ><tspan font-family='"Noto Serif CJK SC",serif' letter-spacing="1.5">江苏省</tspan><tspan font-family='"DejaVu Sans","Liberation Sans",sans-serif' font-size="29.5" dx="8">16.9%</tspan></text>
<text x="1446.7" y="3077" font-size="37" font-weight="bold" fill="#fff" text-anchor="start" ><tspan font-family='"Noto Serif CJK SC",serif' letter-spacing="1.5">福建省</tspan><tspan font-family='"DejaVu Sans","Liberation Sans",sans-serif' font-size="29.5" dx="8">21.1%</tspan></text>
<text x="1363.5" y="2866" font-size="37" font-weight="bold" fill="#fff" text-anchor="start" ><tspan font-family='"Noto Serif CJK SC",serif' letter-spacing="1.5">浙江省</tspan><tspan font-family='"DejaVu Sans","Liberation Sans",sans-serif' font-size="29.5" dx="8">26.6%</tspan></text>
<text x="354" y="2192.5" font-family='"Liberation Serif","Noto Serif CJK SC",serif' font-size="57" font-weight="300" fill="#000" xml:space="preserve" textLength="1892" lengthAdjust="spacing">1—6 月，中国出口纺织面鞋以出口量为基准，排名前十的省市区有浙江、福</text>
<text x="237" y="2277" font-family='"Liberation Serif","Noto Serif CJK SC",serif' font-size="57" font-weight="300" fill="#000" xml:space="preserve" textLength="2009" lengthAdjust="spacingAndGlyphs">建、江苏、广东、山东、新疆、上海、安徽、湖北和四川，其合计占比 94.5%。从出</text>
<text x="237" y="2361.5" font-family='"Liberation Serif","Noto Serif CJK SC",serif' font-size="57" font-weight="300" fill="#000" xml:space="preserve" textLength="2009" lengthAdjust="spacing">口量同比来看，山东、新疆、上海和湖北四地增长，其中湖北涨幅较大；其余六</text>
<text x="237" y="2444" font-family='"Liberation Serif","Noto Serif CJK SC",serif' font-size="57" font-weight="300" fill="#000" xml:space="preserve" >省均下降。</text>
<text x="262" y="2111" font-family='"Liberation Sans","Noto Sans CJK SC",sans-serif' font-size="57.5" font-weight="700" fill="#000" textLength="1232" lengthAdjust="spacing">5. 以出口量为基准，出口排名前十的省市区分析</text>
</svg>
</body></html>
